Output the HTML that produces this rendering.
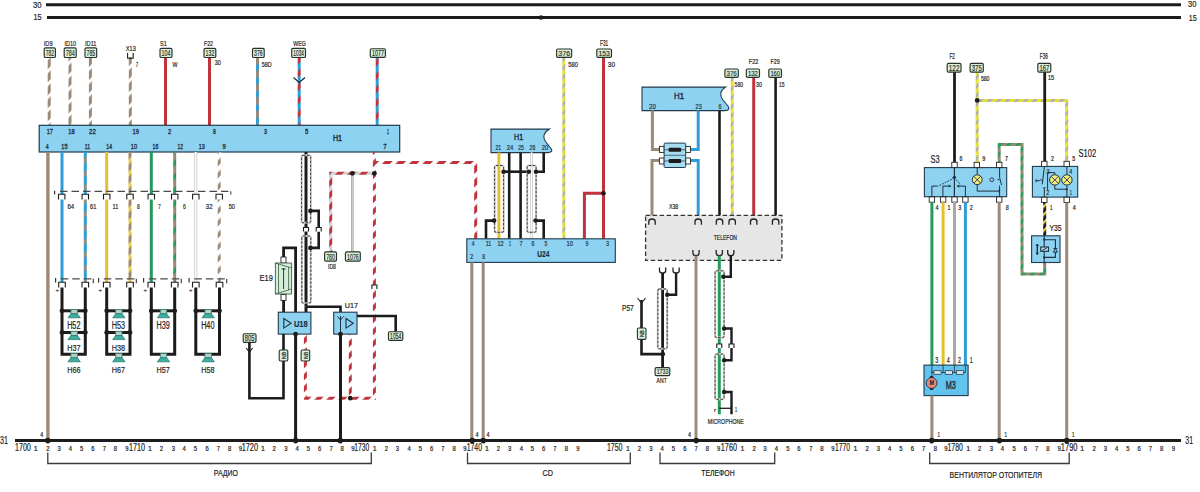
<!DOCTYPE html>
<html><head><meta charset="utf-8"><style>
html,body{margin:0;padding:0;background:#fff;}
svg{display:block;}
</style></head><body>
<svg width="1200" height="492" viewBox="0 0 1200 492">
<defs><pattern id="p0" patternUnits="userSpaceOnUse" width="9.19" height="9.19" patternTransform="rotate(45)"><rect width="9.19" height="9.19" fill="#9c8a76"/><rect width="2.94" height="9.19" fill="#ffffff"/></pattern><pattern id="p1" patternUnits="userSpaceOnUse" width="9.48" height="9.48" patternTransform="rotate(45)"><rect width="9.48" height="9.48" fill="#9c8a76"/><rect width="4.26" height="9.48" fill="#2e9fd6"/></pattern><pattern id="p2" patternUnits="userSpaceOnUse" width="9.48" height="9.48" patternTransform="rotate(45)"><rect width="9.48" height="9.48" fill="#c0323c"/><rect width="5.21" height="9.48" fill="#2e9fd6"/></pattern><pattern id="p3" patternUnits="userSpaceOnUse" width="9.55" height="9.55" patternTransform="rotate(45)"><rect width="9.55" height="9.55" fill="#2e9fd6"/><rect width="3.34" height="9.55" fill="#9c8a76"/></pattern><pattern id="p4" patternUnits="userSpaceOnUse" width="8.49" height="8.49" patternTransform="rotate(45)"><rect width="8.49" height="8.49" fill="#9c8a76"/><rect width="3.56" height="8.49" fill="#e8d048"/></pattern><pattern id="p5" patternUnits="userSpaceOnUse" width="9.48" height="9.48" patternTransform="rotate(45)"><rect width="9.48" height="9.48" fill="#9c8a76"/><rect width="3.98" height="9.48" fill="#259a5c"/></pattern><pattern id="p6" patternUnits="userSpaceOnUse" width="8.49" height="8.49" patternTransform="rotate(45)"><rect width="8.49" height="8.49" fill="#9c8a76"/><rect width="4.24" height="8.49" fill="#ffffff"/></pattern><pattern id="p7" patternUnits="userSpaceOnUse" width="8.49" height="8.49" patternTransform="rotate(45)"><rect width="8.49" height="8.49" fill="#c0323c"/><rect width="3.99" height="8.49" fill="#ffffff"/></pattern><pattern id="p8" patternUnits="userSpaceOnUse" width="9.55" height="9.55" patternTransform="rotate(45)"><rect width="9.55" height="9.55" fill="#c0323c"/><rect width="4.01" height="9.55" fill="#ffffff"/></pattern><pattern id="p9" patternUnits="userSpaceOnUse" width="8.49" height="8.49" patternTransform="rotate(45)"><rect width="8.49" height="8.49" fill="#c0323c"/><rect width="3.82" height="8.49" fill="#d0d0d0"/></pattern><pattern id="p10" patternUnits="userSpaceOnUse" width="6.36" height="6.36" patternTransform="rotate(45)"><rect width="6.36" height="6.36" fill="#e6e03c"/><rect width="2.67" height="6.36" fill="#b0b0b0"/></pattern><pattern id="p11" patternUnits="userSpaceOnUse" width="6.36" height="6.36" patternTransform="rotate(45)"><rect width="6.36" height="6.36" fill="#9c8a76"/><rect width="3.18" height="6.36" fill="#2f9a5e"/></pattern><pattern id="p12" patternUnits="userSpaceOnUse" width="5.66" height="5.66" patternTransform="rotate(45)"><rect width="5.66" height="5.66" fill="#1c1c1c"/><rect width="2.26" height="5.66" fill="#f0d020"/></pattern></defs>
<rect width="1200" height="492" fill="#fff"/>
<line x1="46" y1="4.8" x2="1181" y2="4.8" stroke="#1c1c1c" stroke-width="3" stroke-linecap="butt"/>
<line x1="47" y1="17.5" x2="1181" y2="17.5" stroke="#1c1c1c" stroke-width="3" stroke-linecap="butt"/>
<text x="33" y="8.3" font-family="Liberation Sans" font-size="9.85" font-weight="normal" fill="#222" stroke="#222" stroke-width="0.2" text-anchor="start" textLength="8.5" lengthAdjust="spacingAndGlyphs">30</text>
<text x="33.5" y="20.4" font-family="Liberation Sans" font-size="9.55" font-weight="normal" fill="#222" stroke="#222" stroke-width="0.2" text-anchor="start" textLength="8" lengthAdjust="spacingAndGlyphs">15</text>
<text x="1188" y="7.3" font-family="Liberation Sans" font-size="9.7" font-weight="normal" fill="#222" stroke="#222" stroke-width="0.2" text-anchor="start" textLength="8.3" lengthAdjust="spacingAndGlyphs">30</text>
<text x="1188.8" y="20.8" font-family="Liberation Sans" font-size="9.4" font-weight="normal" fill="#222" stroke="#222" stroke-width="0.2" text-anchor="start" textLength="7.9" lengthAdjust="spacingAndGlyphs">15</text>
<line x1="15" y1="440.6" x2="1181" y2="440.6" stroke="#1c1c1c" stroke-width="3" stroke-linecap="butt"/>
<text x="0" y="443.7" font-family="Liberation Sans" font-size="10.75" font-weight="normal" fill="#222" stroke="#222" stroke-width="0.2" text-anchor="start" textLength="8" lengthAdjust="spacingAndGlyphs">31</text>
<text x="1185.3" y="443.7" font-family="Liberation Sans" font-size="10.45" font-weight="normal" fill="#222" stroke="#222" stroke-width="0.2" text-anchor="start" textLength="7.7" lengthAdjust="spacingAndGlyphs">31</text>
<text x="15" y="451.3" font-family="Liberation Sans" font-size="10.3" font-weight="normal" fill="#222" stroke="#222" stroke-width="0.2" text-anchor="start" textLength="15.8" lengthAdjust="spacingAndGlyphs">1700</text>
<text x="35.8" y="451" font-family="Liberation Sans" font-size="7" font-weight="normal" fill="#222" stroke="#222" stroke-width="0.2" text-anchor="middle">1</text>
<text x="47.8" y="451" font-family="Liberation Sans" font-size="7" font-weight="normal" fill="#222" stroke="#222" stroke-width="0.2" text-anchor="middle" textLength="3.3" lengthAdjust="spacingAndGlyphs">2</text>
<text x="59.2" y="451" font-family="Liberation Sans" font-size="7" font-weight="normal" fill="#222" stroke="#222" stroke-width="0.2" text-anchor="middle" textLength="3.3" lengthAdjust="spacingAndGlyphs">3</text>
<text x="70.3" y="451" font-family="Liberation Sans" font-size="7" font-weight="normal" fill="#222" stroke="#222" stroke-width="0.2" text-anchor="middle" textLength="3.3" lengthAdjust="spacingAndGlyphs">4</text>
<text x="81.7" y="451" font-family="Liberation Sans" font-size="7" font-weight="normal" fill="#222" stroke="#222" stroke-width="0.2" text-anchor="middle" textLength="3.3" lengthAdjust="spacingAndGlyphs">5</text>
<text x="93" y="451" font-family="Liberation Sans" font-size="7" font-weight="normal" fill="#222" stroke="#222" stroke-width="0.2" text-anchor="middle" textLength="3.3" lengthAdjust="spacingAndGlyphs">6</text>
<text x="104.5" y="451" font-family="Liberation Sans" font-size="7" font-weight="normal" fill="#222" stroke="#222" stroke-width="0.2" text-anchor="middle" textLength="3.3" lengthAdjust="spacingAndGlyphs">7</text>
<text x="115.5" y="451" font-family="Liberation Sans" font-size="7" font-weight="normal" fill="#222" stroke="#222" stroke-width="0.2" text-anchor="middle" textLength="3.3" lengthAdjust="spacingAndGlyphs">8</text>
<text x="127" y="451" font-family="Liberation Sans" font-size="7" font-weight="normal" fill="#222" stroke="#222" stroke-width="0.2" text-anchor="middle" textLength="3.3" lengthAdjust="spacingAndGlyphs">9</text>
<text x="129" y="451.3" font-family="Liberation Sans" font-size="10.3" font-weight="normal" fill="#222" stroke="#222" stroke-width="0.2" text-anchor="start" textLength="16" lengthAdjust="spacingAndGlyphs">1710</text>
<text x="150" y="451" font-family="Liberation Sans" font-size="7" font-weight="normal" fill="#222" stroke="#222" stroke-width="0.2" text-anchor="middle">1</text>
<text x="161.3" y="451" font-family="Liberation Sans" font-size="7" font-weight="normal" fill="#222" stroke="#222" stroke-width="0.2" text-anchor="middle" textLength="3.3" lengthAdjust="spacingAndGlyphs">2</text>
<text x="173.3" y="451" font-family="Liberation Sans" font-size="7" font-weight="normal" fill="#222" stroke="#222" stroke-width="0.2" text-anchor="middle" textLength="3.3" lengthAdjust="spacingAndGlyphs">3</text>
<text x="184.2" y="451" font-family="Liberation Sans" font-size="7" font-weight="normal" fill="#222" stroke="#222" stroke-width="0.2" text-anchor="middle" textLength="3.3" lengthAdjust="spacingAndGlyphs">4</text>
<text x="195.3" y="451" font-family="Liberation Sans" font-size="7" font-weight="normal" fill="#222" stroke="#222" stroke-width="0.2" text-anchor="middle" textLength="3.3" lengthAdjust="spacingAndGlyphs">5</text>
<text x="207.2" y="451" font-family="Liberation Sans" font-size="7" font-weight="normal" fill="#222" stroke="#222" stroke-width="0.2" text-anchor="middle" textLength="3.3" lengthAdjust="spacingAndGlyphs">6</text>
<text x="218.3" y="451" font-family="Liberation Sans" font-size="7" font-weight="normal" fill="#222" stroke="#222" stroke-width="0.2" text-anchor="middle" textLength="3.3" lengthAdjust="spacingAndGlyphs">7</text>
<text x="229.7" y="451" font-family="Liberation Sans" font-size="7" font-weight="normal" fill="#222" stroke="#222" stroke-width="0.2" text-anchor="middle" textLength="3.3" lengthAdjust="spacingAndGlyphs">8</text>
<text x="240.5" y="451" font-family="Liberation Sans" font-size="7" font-weight="normal" fill="#222" stroke="#222" stroke-width="0.2" text-anchor="middle" textLength="3.3" lengthAdjust="spacingAndGlyphs">9</text>
<text x="241.7" y="451.3" font-family="Liberation Sans" font-size="10.3" font-weight="normal" fill="#222" stroke="#222" stroke-width="0.2" text-anchor="start" textLength="16.3" lengthAdjust="spacingAndGlyphs">1720</text>
<text x="263" y="451" font-family="Liberation Sans" font-size="7" font-weight="normal" fill="#222" stroke="#222" stroke-width="0.2" text-anchor="middle">1</text>
<text x="274.2" y="451" font-family="Liberation Sans" font-size="7" font-weight="normal" fill="#222" stroke="#222" stroke-width="0.2" text-anchor="middle" textLength="3.3" lengthAdjust="spacingAndGlyphs">2</text>
<text x="285.8" y="451" font-family="Liberation Sans" font-size="7" font-weight="normal" fill="#222" stroke="#222" stroke-width="0.2" text-anchor="middle" textLength="3.3" lengthAdjust="spacingAndGlyphs">3</text>
<text x="297.2" y="451" font-family="Liberation Sans" font-size="7" font-weight="normal" fill="#222" stroke="#222" stroke-width="0.2" text-anchor="middle" textLength="3.3" lengthAdjust="spacingAndGlyphs">4</text>
<text x="308.3" y="451" font-family="Liberation Sans" font-size="7" font-weight="normal" fill="#222" stroke="#222" stroke-width="0.2" text-anchor="middle" textLength="3.3" lengthAdjust="spacingAndGlyphs">5</text>
<text x="319.7" y="451" font-family="Liberation Sans" font-size="7" font-weight="normal" fill="#222" stroke="#222" stroke-width="0.2" text-anchor="middle" textLength="3.3" lengthAdjust="spacingAndGlyphs">6</text>
<text x="331.2" y="451" font-family="Liberation Sans" font-size="7" font-weight="normal" fill="#222" stroke="#222" stroke-width="0.2" text-anchor="middle" textLength="3.3" lengthAdjust="spacingAndGlyphs">7</text>
<text x="342.2" y="451" font-family="Liberation Sans" font-size="7" font-weight="normal" fill="#222" stroke="#222" stroke-width="0.2" text-anchor="middle" textLength="3.3" lengthAdjust="spacingAndGlyphs">8</text>
<text x="353" y="451" font-family="Liberation Sans" font-size="7" font-weight="normal" fill="#222" stroke="#222" stroke-width="0.2" text-anchor="middle" textLength="3.3" lengthAdjust="spacingAndGlyphs">9</text>
<text x="354.2" y="451.3" font-family="Liberation Sans" font-size="10.3" font-weight="normal" fill="#222" stroke="#222" stroke-width="0.2" text-anchor="start" textLength="15" lengthAdjust="spacingAndGlyphs">1730</text>
<text x="374.7" y="451" font-family="Liberation Sans" font-size="7" font-weight="normal" fill="#222" stroke="#222" stroke-width="0.2" text-anchor="middle">1</text>
<text x="386.3" y="451" font-family="Liberation Sans" font-size="7" font-weight="normal" fill="#222" stroke="#222" stroke-width="0.2" text-anchor="middle" textLength="3.3" lengthAdjust="spacingAndGlyphs">2</text>
<text x="397.5" y="451" font-family="Liberation Sans" font-size="7" font-weight="normal" fill="#222" stroke="#222" stroke-width="0.2" text-anchor="middle" textLength="3.3" lengthAdjust="spacingAndGlyphs">3</text>
<text x="409.2" y="451" font-family="Liberation Sans" font-size="7" font-weight="normal" fill="#222" stroke="#222" stroke-width="0.2" text-anchor="middle" textLength="3.3" lengthAdjust="spacingAndGlyphs">4</text>
<text x="420.3" y="451" font-family="Liberation Sans" font-size="7" font-weight="normal" fill="#222" stroke="#222" stroke-width="0.2" text-anchor="middle" textLength="3.3" lengthAdjust="spacingAndGlyphs">5</text>
<text x="431.7" y="451" font-family="Liberation Sans" font-size="7" font-weight="normal" fill="#222" stroke="#222" stroke-width="0.2" text-anchor="middle" textLength="3.3" lengthAdjust="spacingAndGlyphs">6</text>
<text x="443" y="451" font-family="Liberation Sans" font-size="7" font-weight="normal" fill="#222" stroke="#222" stroke-width="0.2" text-anchor="middle" textLength="3.3" lengthAdjust="spacingAndGlyphs">7</text>
<text x="454.2" y="451" font-family="Liberation Sans" font-size="7" font-weight="normal" fill="#222" stroke="#222" stroke-width="0.2" text-anchor="middle" textLength="3.3" lengthAdjust="spacingAndGlyphs">8</text>
<text x="465" y="451" font-family="Liberation Sans" font-size="7" font-weight="normal" fill="#222" stroke="#222" stroke-width="0.2" text-anchor="middle" textLength="3.3" lengthAdjust="spacingAndGlyphs">9</text>
<text x="466.7" y="451.3" font-family="Liberation Sans" font-size="10.3" font-weight="normal" fill="#222" stroke="#222" stroke-width="0.2" text-anchor="start" textLength="15.3" lengthAdjust="spacingAndGlyphs">1740</text>
<text x="487" y="451" font-family="Liberation Sans" font-size="7" font-weight="normal" fill="#222" stroke="#222" stroke-width="0.2" text-anchor="middle">1</text>
<text x="498.3" y="451" font-family="Liberation Sans" font-size="7" font-weight="normal" fill="#222" stroke="#222" stroke-width="0.2" text-anchor="middle" textLength="3.3" lengthAdjust="spacingAndGlyphs">2</text>
<text x="509.7" y="451" font-family="Liberation Sans" font-size="7" font-weight="normal" fill="#222" stroke="#222" stroke-width="0.2" text-anchor="middle" textLength="3.3" lengthAdjust="spacingAndGlyphs">3</text>
<text x="521.3" y="451" font-family="Liberation Sans" font-size="7" font-weight="normal" fill="#222" stroke="#222" stroke-width="0.2" text-anchor="middle" textLength="3.3" lengthAdjust="spacingAndGlyphs">4</text>
<text x="532.5" y="451" font-family="Liberation Sans" font-size="7" font-weight="normal" fill="#222" stroke="#222" stroke-width="0.2" text-anchor="middle" textLength="3.3" lengthAdjust="spacingAndGlyphs">5</text>
<text x="543.7" y="451" font-family="Liberation Sans" font-size="7" font-weight="normal" fill="#222" stroke="#222" stroke-width="0.2" text-anchor="middle" textLength="3.3" lengthAdjust="spacingAndGlyphs">6</text>
<text x="555" y="451" font-family="Liberation Sans" font-size="7" font-weight="normal" fill="#222" stroke="#222" stroke-width="0.2" text-anchor="middle" textLength="3.3" lengthAdjust="spacingAndGlyphs">7</text>
<text x="566.3" y="451" font-family="Liberation Sans" font-size="7" font-weight="normal" fill="#222" stroke="#222" stroke-width="0.2" text-anchor="middle" textLength="3.3" lengthAdjust="spacingAndGlyphs">8</text>
<text x="578" y="451" font-family="Liberation Sans" font-size="7" font-weight="normal" fill="#222" stroke="#222" stroke-width="0.2" text-anchor="middle" textLength="3.3" lengthAdjust="spacingAndGlyphs">9</text>
<text x="607" y="451.3" font-family="Liberation Sans" font-size="10.3" font-weight="normal" fill="#222" stroke="#222" stroke-width="0.2" text-anchor="start" textLength="15.5" lengthAdjust="spacingAndGlyphs">1750</text>
<text x="628" y="451" font-family="Liberation Sans" font-size="7" font-weight="normal" fill="#222" stroke="#222" stroke-width="0.2" text-anchor="middle">1</text>
<text x="639.5" y="451" font-family="Liberation Sans" font-size="7" font-weight="normal" fill="#222" stroke="#222" stroke-width="0.2" text-anchor="middle" textLength="3.3" lengthAdjust="spacingAndGlyphs">2</text>
<text x="650.8" y="451" font-family="Liberation Sans" font-size="7" font-weight="normal" fill="#222" stroke="#222" stroke-width="0.2" text-anchor="middle" textLength="3.3" lengthAdjust="spacingAndGlyphs">3</text>
<text x="662.2" y="451" font-family="Liberation Sans" font-size="7" font-weight="normal" fill="#222" stroke="#222" stroke-width="0.2" text-anchor="middle" textLength="3.3" lengthAdjust="spacingAndGlyphs">4</text>
<text x="673.3" y="451" font-family="Liberation Sans" font-size="7" font-weight="normal" fill="#222" stroke="#222" stroke-width="0.2" text-anchor="middle" textLength="3.3" lengthAdjust="spacingAndGlyphs">5</text>
<text x="685" y="451" font-family="Liberation Sans" font-size="7" font-weight="normal" fill="#222" stroke="#222" stroke-width="0.2" text-anchor="middle" textLength="3.3" lengthAdjust="spacingAndGlyphs">6</text>
<text x="696.2" y="451" font-family="Liberation Sans" font-size="7" font-weight="normal" fill="#222" stroke="#222" stroke-width="0.2" text-anchor="middle" textLength="3.3" lengthAdjust="spacingAndGlyphs">7</text>
<text x="707.5" y="451" font-family="Liberation Sans" font-size="7" font-weight="normal" fill="#222" stroke="#222" stroke-width="0.2" text-anchor="middle" textLength="3.3" lengthAdjust="spacingAndGlyphs">8</text>
<text x="718.7" y="451" font-family="Liberation Sans" font-size="7" font-weight="normal" fill="#222" stroke="#222" stroke-width="0.2" text-anchor="middle" textLength="3.3" lengthAdjust="spacingAndGlyphs">9</text>
<text x="720.8" y="451.3" font-family="Liberation Sans" font-size="10.3" font-weight="normal" fill="#222" stroke="#222" stroke-width="0.2" text-anchor="start" textLength="16.2" lengthAdjust="spacingAndGlyphs">1760</text>
<text x="742.5" y="451" font-family="Liberation Sans" font-size="7" font-weight="normal" fill="#222" stroke="#222" stroke-width="0.2" text-anchor="middle">1</text>
<text x="754.2" y="451" font-family="Liberation Sans" font-size="7" font-weight="normal" fill="#222" stroke="#222" stroke-width="0.2" text-anchor="middle" textLength="3.3" lengthAdjust="spacingAndGlyphs">2</text>
<text x="765" y="451" font-family="Liberation Sans" font-size="7" font-weight="normal" fill="#222" stroke="#222" stroke-width="0.2" text-anchor="middle" textLength="3.3" lengthAdjust="spacingAndGlyphs">3</text>
<text x="776.3" y="451" font-family="Liberation Sans" font-size="7" font-weight="normal" fill="#222" stroke="#222" stroke-width="0.2" text-anchor="middle" textLength="3.3" lengthAdjust="spacingAndGlyphs">4</text>
<text x="787.8" y="451" font-family="Liberation Sans" font-size="7" font-weight="normal" fill="#222" stroke="#222" stroke-width="0.2" text-anchor="middle" textLength="3.3" lengthAdjust="spacingAndGlyphs">5</text>
<text x="799" y="451" font-family="Liberation Sans" font-size="7" font-weight="normal" fill="#222" stroke="#222" stroke-width="0.2" text-anchor="middle" textLength="3.3" lengthAdjust="spacingAndGlyphs">6</text>
<text x="810.8" y="451" font-family="Liberation Sans" font-size="7" font-weight="normal" fill="#222" stroke="#222" stroke-width="0.2" text-anchor="middle" textLength="3.3" lengthAdjust="spacingAndGlyphs">7</text>
<text x="822" y="451" font-family="Liberation Sans" font-size="7" font-weight="normal" fill="#222" stroke="#222" stroke-width="0.2" text-anchor="middle" textLength="3.3" lengthAdjust="spacingAndGlyphs">8</text>
<text x="833" y="451" font-family="Liberation Sans" font-size="7" font-weight="normal" fill="#222" stroke="#222" stroke-width="0.2" text-anchor="middle" textLength="3.3" lengthAdjust="spacingAndGlyphs">9</text>
<text x="835" y="451.3" font-family="Liberation Sans" font-size="10.3" font-weight="normal" fill="#222" stroke="#222" stroke-width="0.2" text-anchor="start" textLength="15" lengthAdjust="spacingAndGlyphs">1770</text>
<text x="855.5" y="451" font-family="Liberation Sans" font-size="7" font-weight="normal" fill="#222" stroke="#222" stroke-width="0.2" text-anchor="middle">1</text>
<text x="867.2" y="451" font-family="Liberation Sans" font-size="7" font-weight="normal" fill="#222" stroke="#222" stroke-width="0.2" text-anchor="middle" textLength="3.3" lengthAdjust="spacingAndGlyphs">2</text>
<text x="878.3" y="451" font-family="Liberation Sans" font-size="7" font-weight="normal" fill="#222" stroke="#222" stroke-width="0.2" text-anchor="middle" textLength="3.3" lengthAdjust="spacingAndGlyphs">3</text>
<text x="889.7" y="451" font-family="Liberation Sans" font-size="7" font-weight="normal" fill="#222" stroke="#222" stroke-width="0.2" text-anchor="middle" textLength="3.3" lengthAdjust="spacingAndGlyphs">4</text>
<text x="900.8" y="451" font-family="Liberation Sans" font-size="7" font-weight="normal" fill="#222" stroke="#222" stroke-width="0.2" text-anchor="middle" textLength="3.3" lengthAdjust="spacingAndGlyphs">5</text>
<text x="912.5" y="451" font-family="Liberation Sans" font-size="7" font-weight="normal" fill="#222" stroke="#222" stroke-width="0.2" text-anchor="middle" textLength="3.3" lengthAdjust="spacingAndGlyphs">6</text>
<text x="923.7" y="451" font-family="Liberation Sans" font-size="7" font-weight="normal" fill="#222" stroke="#222" stroke-width="0.2" text-anchor="middle" textLength="3.3" lengthAdjust="spacingAndGlyphs">7</text>
<text x="935.3" y="451" font-family="Liberation Sans" font-size="7" font-weight="normal" fill="#222" stroke="#222" stroke-width="0.2" text-anchor="middle" textLength="3.3" lengthAdjust="spacingAndGlyphs">8</text>
<text x="945.8" y="451" font-family="Liberation Sans" font-size="7" font-weight="normal" fill="#222" stroke="#222" stroke-width="0.2" text-anchor="middle" textLength="3.3" lengthAdjust="spacingAndGlyphs">9</text>
<text x="947.5" y="451.3" font-family="Liberation Sans" font-size="10.3" font-weight="normal" fill="#222" stroke="#222" stroke-width="0.2" text-anchor="start" textLength="15.5" lengthAdjust="spacingAndGlyphs">1780</text>
<text x="968.3" y="451" font-family="Liberation Sans" font-size="7" font-weight="normal" fill="#222" stroke="#222" stroke-width="0.2" text-anchor="middle">1</text>
<text x="979.7" y="451" font-family="Liberation Sans" font-size="7" font-weight="normal" fill="#222" stroke="#222" stroke-width="0.2" text-anchor="middle" textLength="3.3" lengthAdjust="spacingAndGlyphs">2</text>
<text x="991.3" y="451" font-family="Liberation Sans" font-size="7" font-weight="normal" fill="#222" stroke="#222" stroke-width="0.2" text-anchor="middle" textLength="3.3" lengthAdjust="spacingAndGlyphs">3</text>
<text x="1002.5" y="451" font-family="Liberation Sans" font-size="7" font-weight="normal" fill="#222" stroke="#222" stroke-width="0.2" text-anchor="middle" textLength="3.3" lengthAdjust="spacingAndGlyphs">4</text>
<text x="1014.2" y="451" font-family="Liberation Sans" font-size="7" font-weight="normal" fill="#222" stroke="#222" stroke-width="0.2" text-anchor="middle" textLength="3.3" lengthAdjust="spacingAndGlyphs">5</text>
<text x="1025.3" y="451" font-family="Liberation Sans" font-size="7" font-weight="normal" fill="#222" stroke="#222" stroke-width="0.2" text-anchor="middle" textLength="3.3" lengthAdjust="spacingAndGlyphs">6</text>
<text x="1036.7" y="451" font-family="Liberation Sans" font-size="7" font-weight="normal" fill="#222" stroke="#222" stroke-width="0.2" text-anchor="middle" textLength="3.3" lengthAdjust="spacingAndGlyphs">7</text>
<text x="1048" y="451" font-family="Liberation Sans" font-size="7" font-weight="normal" fill="#222" stroke="#222" stroke-width="0.2" text-anchor="middle" textLength="3.3" lengthAdjust="spacingAndGlyphs">8</text>
<text x="1059.2" y="451" font-family="Liberation Sans" font-size="7" font-weight="normal" fill="#222" stroke="#222" stroke-width="0.2" text-anchor="middle" textLength="3.3" lengthAdjust="spacingAndGlyphs">9</text>
<text x="1060.8" y="451.3" font-family="Liberation Sans" font-size="10.3" font-weight="normal" fill="#222" stroke="#222" stroke-width="0.2" text-anchor="start" textLength="16.7" lengthAdjust="spacingAndGlyphs">1790</text>
<text x="1082.2" y="451" font-family="Liberation Sans" font-size="7" font-weight="normal" fill="#222" stroke="#222" stroke-width="0.2" text-anchor="middle">1</text>
<text x="1094.2" y="451" font-family="Liberation Sans" font-size="7" font-weight="normal" fill="#222" stroke="#222" stroke-width="0.2" text-anchor="middle" textLength="3.3" lengthAdjust="spacingAndGlyphs">2</text>
<text x="1105.3" y="451" font-family="Liberation Sans" font-size="7" font-weight="normal" fill="#222" stroke="#222" stroke-width="0.2" text-anchor="middle" textLength="3.3" lengthAdjust="spacingAndGlyphs">3</text>
<text x="1116.7" y="451" font-family="Liberation Sans" font-size="7" font-weight="normal" fill="#222" stroke="#222" stroke-width="0.2" text-anchor="middle" textLength="3.3" lengthAdjust="spacingAndGlyphs">4</text>
<text x="1128" y="451" font-family="Liberation Sans" font-size="7" font-weight="normal" fill="#222" stroke="#222" stroke-width="0.2" text-anchor="middle" textLength="3.3" lengthAdjust="spacingAndGlyphs">5</text>
<text x="1139.2" y="451" font-family="Liberation Sans" font-size="7" font-weight="normal" fill="#222" stroke="#222" stroke-width="0.2" text-anchor="middle" textLength="3.3" lengthAdjust="spacingAndGlyphs">6</text>
<text x="1150.5" y="451" font-family="Liberation Sans" font-size="7" font-weight="normal" fill="#222" stroke="#222" stroke-width="0.2" text-anchor="middle" textLength="3.3" lengthAdjust="spacingAndGlyphs">7</text>
<text x="1161.7" y="451" font-family="Liberation Sans" font-size="7" font-weight="normal" fill="#222" stroke="#222" stroke-width="0.2" text-anchor="middle" textLength="3.3" lengthAdjust="spacingAndGlyphs">8</text>
<text x="1173.3" y="451" font-family="Liberation Sans" font-size="7" font-weight="normal" fill="#222" stroke="#222" stroke-width="0.2" text-anchor="middle" textLength="3.3" lengthAdjust="spacingAndGlyphs">9</text>
<polyline points="47.8,452.5 47.8,463.5 371.3,463.5 371.3,452.5" fill="none" stroke="#3a3a3a" stroke-width="1.3" stroke-linejoin="miter" stroke-linecap="butt"/>
<polyline points="467.5,452.5 467.5,463.5 630.3,463.5 630.3,452.5" fill="none" stroke="#3a3a3a" stroke-width="1.3" stroke-linejoin="miter" stroke-linecap="butt"/>
<polyline points="660,452.5 660,463.5 774.7,463.5 774.7,452.5" fill="none" stroke="#3a3a3a" stroke-width="1.3" stroke-linejoin="miter" stroke-linecap="butt"/>
<polyline points="929.7,452.5 929.7,463.5 1069.2,463.5 1069.2,452.5" fill="none" stroke="#3a3a3a" stroke-width="1.3" stroke-linejoin="miter" stroke-linecap="butt"/>
<text x="213.8" y="476" font-family="Liberation Sans" font-size="9.4" font-weight="normal" fill="#222" stroke="#222" stroke-width="0.2" text-anchor="start" textLength="24.2" lengthAdjust="spacingAndGlyphs">РАДИО</text>
<text x="542.5" y="476" font-family="Liberation Sans" font-size="9.4" font-weight="normal" fill="#222" stroke="#222" stroke-width="0.2" text-anchor="start" textLength="10.5" lengthAdjust="spacingAndGlyphs">CD</text>
<text x="701.2" y="476" font-family="Liberation Sans" font-size="9.4" font-weight="normal" fill="#222" stroke="#222" stroke-width="0.2" text-anchor="start" textLength="33.5" lengthAdjust="spacingAndGlyphs">ТЕЛЕФОН</text>
<text x="949.6" y="478.3" font-family="Liberation Sans" font-size="9.85" font-weight="normal" fill="#222" stroke="#222" stroke-width="0.2" text-anchor="start" textLength="92.4" lengthAdjust="spacingAndGlyphs">ВЕНТИЛЯТОР ОТОПИТЕЛЯ</text>
<polyline points="49.2,57.5 49.2,125.3" fill="none" stroke="url(#p0)" stroke-width="3" stroke-linejoin="miter"/>
<rect x="44.2" y="47.9" width="11.2" height="9.6" rx="1.3" fill="#dcefdb" stroke="#25332a" stroke-width="1.15"/>
<text x="45.8" y="56" font-family="Liberation Sans" font-size="9.55" font-weight="normal" fill="#1e2a22" stroke="#1e2a22" stroke-width="0.15" text-anchor="start" textLength="8.1" lengthAdjust="spacingAndGlyphs">782</text>
<text x="43.8" y="45.6" font-family="Liberation Sans" font-size="7.76" font-weight="normal" fill="#222" stroke="#222" stroke-width="0.2" text-anchor="start" textLength="8.7" lengthAdjust="spacingAndGlyphs">ID9</text>
<polyline points="70,57.5 70,125.3" fill="none" stroke="url(#p0)" stroke-width="3" stroke-linejoin="miter"/>
<rect x="64.2" y="47.9" width="12" height="9.6" rx="1.3" fill="#dcefdb" stroke="#25332a" stroke-width="1.15"/>
<text x="65.8" y="56" font-family="Liberation Sans" font-size="9.55" font-weight="normal" fill="#1e2a22" stroke="#1e2a22" stroke-width="0.15" text-anchor="start" textLength="8.9" lengthAdjust="spacingAndGlyphs">784</text>
<text x="64.5" y="45.6" font-family="Liberation Sans" font-size="7.76" font-weight="normal" fill="#222" stroke="#222" stroke-width="0.2" text-anchor="start" textLength="11.5" lengthAdjust="spacingAndGlyphs">ID10</text>
<polyline points="90.4,57.5 90.4,125.3" fill="none" stroke="url(#p0)" stroke-width="3" stroke-linejoin="miter"/>
<rect x="85" y="47.9" width="11.7" height="9.6" rx="1.3" fill="#dcefdb" stroke="#25332a" stroke-width="1.15"/>
<text x="86.6" y="56" font-family="Liberation Sans" font-size="9.55" font-weight="normal" fill="#1e2a22" stroke="#1e2a22" stroke-width="0.15" text-anchor="start" textLength="8.6" lengthAdjust="spacingAndGlyphs">785</text>
<text x="85" y="45.6" font-family="Liberation Sans" font-size="7.76" font-weight="normal" fill="#222" stroke="#222" stroke-width="0.2" text-anchor="start" textLength="11.5" lengthAdjust="spacingAndGlyphs">ID11</text>
<polyline points="130.3,57 130.3,125.3" fill="none" stroke="url(#p0)" stroke-width="3" stroke-linejoin="miter"/>
<text x="125.8" y="50.8" font-family="Liberation Sans" font-size="7.46" font-weight="normal" fill="#222" stroke="#222" stroke-width="0.2" text-anchor="start" textLength="10" lengthAdjust="spacingAndGlyphs">X13</text>
<path d="M127.6,53 V58.2 H133.2 V53" fill="none" stroke="#1c1c1c" stroke-width="1.1"/>
<text x="135.8" y="66.7" font-family="Liberation Sans" font-size="7.46" font-weight="normal" fill="#222" stroke="#222" stroke-width="0.2" text-anchor="start" textLength="2.5" lengthAdjust="spacingAndGlyphs">7</text>
<polyline points="165.5,57.5 165.5,125.3" fill="none" stroke="#c0323c" stroke-width="3" stroke-linejoin="miter" stroke-linecap="butt"/>
<rect x="160" y="48.3" width="12" height="9.2" rx="1.3" fill="#dcefdb" stroke="#25332a" stroke-width="1.15"/>
<text x="161.6" y="56" font-family="Liberation Sans" font-size="8.96" font-weight="normal" fill="#1e2a22" stroke="#1e2a22" stroke-width="0.15" text-anchor="start" textLength="8.9" lengthAdjust="spacingAndGlyphs">104</text>
<text x="160" y="45.8" font-family="Liberation Sans" font-size="7.46" font-weight="normal" fill="#222" stroke="#222" stroke-width="0.2" text-anchor="start" textLength="6.7" lengthAdjust="spacingAndGlyphs">S1</text>
<text x="172.5" y="66.7" font-family="Liberation Sans" font-size="7.46" font-weight="normal" fill="#222" stroke="#222" stroke-width="0.2" text-anchor="start" textLength="5" lengthAdjust="spacingAndGlyphs">W</text>
<polyline points="209.5,57.5 209.5,125.3" fill="none" stroke="#c0323c" stroke-width="3" stroke-linejoin="miter" stroke-linecap="butt"/>
<rect x="204" y="48.3" width="11.8" height="9.2" rx="1.3" fill="#dcefdb" stroke="#25332a" stroke-width="1.15"/>
<text x="205.6" y="56" font-family="Liberation Sans" font-size="8.96" font-weight="normal" fill="#1e2a22" stroke="#1e2a22" stroke-width="0.15" text-anchor="start" textLength="8.7" lengthAdjust="spacingAndGlyphs">132</text>
<text x="204" y="45.8" font-family="Liberation Sans" font-size="7.46" font-weight="normal" fill="#222" stroke="#222" stroke-width="0.2" text-anchor="start" textLength="9" lengthAdjust="spacingAndGlyphs">F22</text>
<text x="214.7" y="65" font-family="Liberation Sans" font-size="7.91" font-weight="normal" fill="#222" stroke="#222" stroke-width="0.2" text-anchor="start" textLength="6.1" lengthAdjust="spacingAndGlyphs">30</text>
<polyline points="257.5,57.5 257.5,125.3" fill="none" stroke="url(#p1)" stroke-width="3" stroke-linejoin="miter"/>
<rect x="252.5" y="48.3" width="11.7" height="9.2" rx="1.3" fill="#dcefdb" stroke="#25332a" stroke-width="1.15"/>
<text x="254.1" y="56" font-family="Liberation Sans" font-size="8.96" font-weight="normal" fill="#1e2a22" stroke="#1e2a22" stroke-width="0.15" text-anchor="start" textLength="8.6" lengthAdjust="spacingAndGlyphs">376</text>
<text x="261.7" y="66.7" font-family="Liberation Sans" font-size="7.46" font-weight="normal" fill="#222" stroke="#222" stroke-width="0.2" text-anchor="start" textLength="10" lengthAdjust="spacingAndGlyphs">58D</text>
<polyline points="299.2,57.5 299.2,125.3" fill="none" stroke="url(#p2)" stroke-width="3" stroke-linejoin="miter"/>
<rect x="291.7" y="48.3" width="13.8" height="9.2" rx="1.3" fill="#dcefdb" stroke="#25332a" stroke-width="1.15"/>
<text x="293.3" y="56" font-family="Liberation Sans" font-size="8.96" font-weight="normal" fill="#1e2a22" stroke="#1e2a22" stroke-width="0.15" text-anchor="start" textLength="10.7" lengthAdjust="spacingAndGlyphs">1034</text>
<text x="293.3" y="45.8" font-family="Liberation Sans" font-size="7.46" font-weight="normal" fill="#222" stroke="#222" stroke-width="0.2" text-anchor="start" textLength="12.5" lengthAdjust="spacingAndGlyphs">WEG</text>
<polyline points="293.5,77.5 299.2,82.5 305,77.5" fill="none" stroke="#1c2a40" stroke-width="1.3" stroke-linejoin="miter" stroke-linecap="butt"/>
<polyline points="377.2,57.5 377.2,125.3" fill="none" stroke="url(#p2)" stroke-width="3" stroke-linejoin="miter"/>
<rect x="370.3" y="48.7" width="15.1" height="8.7" rx="1.3" fill="#dcefdb" stroke="#25332a" stroke-width="1.15"/>
<text x="371.9" y="55.9" font-family="Liberation Sans" font-size="8.21" font-weight="normal" fill="#1e2a22" stroke="#1e2a22" stroke-width="0.15" text-anchor="start" textLength="12" lengthAdjust="spacingAndGlyphs">1077</text>
<rect x="39.2" y="125.3" width="360.5" height="26.7" rx="0" fill="#8ed2f1" stroke="#223a4c" stroke-width="1.2"/>
<text x="46.7" y="134.2" font-family="Liberation Sans" font-size="8.06" font-weight="normal" fill="#1d3140" stroke="#1d3140" stroke-width="0.35" text-anchor="start" textLength="6.3" lengthAdjust="spacingAndGlyphs">17</text>
<text x="68.3" y="134.2" font-family="Liberation Sans" font-size="8.06" font-weight="normal" fill="#1d3140" stroke="#1d3140" stroke-width="0.35" text-anchor="start" textLength="6.4" lengthAdjust="spacingAndGlyphs">18</text>
<text x="89" y="134.2" font-family="Liberation Sans" font-size="8.06" font-weight="normal" fill="#1d3140" stroke="#1d3140" stroke-width="0.35" text-anchor="start" textLength="6.8" lengthAdjust="spacingAndGlyphs">22</text>
<text x="132.5" y="134.2" font-family="Liberation Sans" font-size="8.06" font-weight="normal" fill="#1d3140" stroke="#1d3140" stroke-width="0.35" text-anchor="start" textLength="6.5" lengthAdjust="spacingAndGlyphs">19</text>
<text x="168" y="134.2" font-family="Liberation Sans" font-size="8.06" font-weight="normal" fill="#1d3140" stroke="#1d3140" stroke-width="0.35" text-anchor="start" textLength="3.3" lengthAdjust="spacingAndGlyphs">2</text>
<text x="213" y="134.2" font-family="Liberation Sans" font-size="8.06" font-weight="normal" fill="#1d3140" stroke="#1d3140" stroke-width="0.35" text-anchor="start" textLength="2.8" lengthAdjust="spacingAndGlyphs">8</text>
<text x="264" y="134.2" font-family="Liberation Sans" font-size="8.06" font-weight="normal" fill="#1d3140" stroke="#1d3140" stroke-width="0.35" text-anchor="start" textLength="3" lengthAdjust="spacingAndGlyphs">3</text>
<text x="305" y="134.2" font-family="Liberation Sans" font-size="8.06" font-weight="normal" fill="#1d3140" stroke="#1d3140" stroke-width="0.35" text-anchor="start" textLength="3.3" lengthAdjust="spacingAndGlyphs">5</text>
<text x="387" y="134.2" font-family="Liberation Sans" font-size="8.06" font-weight="normal" fill="#1d3140" stroke="#1d3140" stroke-width="0.35" text-anchor="start" textLength="2" lengthAdjust="spacingAndGlyphs">1</text>
<text x="45.8" y="148.6" font-family="Liberation Sans" font-size="8.06" font-weight="normal" fill="#1d3140" stroke="#1d3140" stroke-width="0.35" text-anchor="start" textLength="2.9" lengthAdjust="spacingAndGlyphs">4</text>
<text x="61.3" y="148.6" font-family="Liberation Sans" font-size="8.06" font-weight="normal" fill="#1d3140" stroke="#1d3140" stroke-width="0.35" text-anchor="start" textLength="6.2" lengthAdjust="spacingAndGlyphs">15</text>
<text x="84.7" y="148.6" font-family="Liberation Sans" font-size="8.06" font-weight="normal" fill="#1d3140" stroke="#1d3140" stroke-width="0.35" text-anchor="start" textLength="5.3" lengthAdjust="spacingAndGlyphs">11</text>
<text x="106.3" y="148.6" font-family="Liberation Sans" font-size="8.06" font-weight="normal" fill="#1d3140" stroke="#1d3140" stroke-width="0.35" text-anchor="start" textLength="5.7" lengthAdjust="spacingAndGlyphs">14</text>
<text x="130.8" y="148.6" font-family="Liberation Sans" font-size="8.06" font-weight="normal" fill="#1d3140" stroke="#1d3140" stroke-width="0.35" text-anchor="start" textLength="6.2" lengthAdjust="spacingAndGlyphs">10</text>
<text x="152.5" y="148.6" font-family="Liberation Sans" font-size="8.06" font-weight="normal" fill="#1d3140" stroke="#1d3140" stroke-width="0.35" text-anchor="start" textLength="5.8" lengthAdjust="spacingAndGlyphs">16</text>
<text x="177.5" y="148.6" font-family="Liberation Sans" font-size="8.06" font-weight="normal" fill="#1d3140" stroke="#1d3140" stroke-width="0.35" text-anchor="start" textLength="5.5" lengthAdjust="spacingAndGlyphs">12</text>
<text x="198.7" y="148.6" font-family="Liberation Sans" font-size="8.06" font-weight="normal" fill="#1d3140" stroke="#1d3140" stroke-width="0.35" text-anchor="start" textLength="6" lengthAdjust="spacingAndGlyphs">13</text>
<text x="222.5" y="148.6" font-family="Liberation Sans" font-size="8.06" font-weight="normal" fill="#1d3140" stroke="#1d3140" stroke-width="0.35" text-anchor="start" textLength="3.3" lengthAdjust="spacingAndGlyphs">9</text>
<text x="383.3" y="148.6" font-family="Liberation Sans" font-size="8.06" font-weight="normal" fill="#1d3140" stroke="#1d3140" stroke-width="0.35" text-anchor="start" textLength="3.4" lengthAdjust="spacingAndGlyphs">7</text>
<text x="333" y="141" font-family="Liberation Sans" font-size="9.25" font-weight="normal" fill="#1d3140" stroke="#1d3140" stroke-width="0.5" text-anchor="start" textLength="9" lengthAdjust="spacingAndGlyphs">H1</text>
<polyline points="47.9,152 47.9,440.6" fill="none" stroke="#9c8a76" stroke-width="3.4" stroke-linejoin="miter" stroke-linecap="butt"/>
<line x1="62" y1="152" x2="62" y2="283" stroke="#2e9fd6" stroke-width="3" stroke-linecap="butt"/>
<polyline points="85.3,152 85.3,283" fill="none" stroke="url(#p3)" stroke-width="3" stroke-linejoin="miter"/>
<line x1="106.7" y1="152" x2="106.7" y2="283" stroke="#e5c02c" stroke-width="3" stroke-linecap="butt"/>
<polyline points="130,152 130,283" fill="none" stroke="url(#p4)" stroke-width="3" stroke-linejoin="miter"/>
<line x1="151.3" y1="152" x2="151.3" y2="283" stroke="#259a5c" stroke-width="3" stroke-linecap="butt"/>
<polyline points="174.7,152 174.7,283" fill="none" stroke="url(#p5)" stroke-width="3" stroke-linejoin="miter"/>
<polyline points="195.8,152 195.8,283" fill="none" stroke="#c8c8c8" stroke-width="3" stroke-linejoin="miter" stroke-linecap="butt"/>
<line x1="195.8" y1="152" x2="195.8" y2="283" stroke="#ffffff" stroke-width="1.4" stroke-linecap="butt"/>
<polyline points="219.2,152 219.2,283" fill="none" stroke="url(#p6)" stroke-width="3" stroke-linejoin="miter"/>
<line x1="60" y1="191.3" x2="230.8" y2="191.3" stroke="#4a4a4a" stroke-width="1.3" stroke-linecap="butt" stroke-dasharray="7.5 4"/>
<line x1="54.6" y1="190.7" x2="54.6" y2="194.6" stroke="#333" stroke-width="1.2" stroke-linecap="butt"/>
<line x1="230.8" y1="191.3" x2="230.8" y2="194.5" stroke="#444" stroke-width="1.1" stroke-linecap="butt"/>
<path d="M58.5,199.5 V194.3 H64.9 V199.5" fill="#fff" stroke="#1c1c1c" stroke-width="1.1"/>
<path d="M82.1,199.5 V194.3 H88.5 V199.5" fill="#fff" stroke="#1c1c1c" stroke-width="1.1"/>
<path d="M103.5,199.5 V194.3 H109.9 V199.5" fill="#fff" stroke="#1c1c1c" stroke-width="1.1"/>
<path d="M126.8,199.5 V194.3 H133.2 V199.5" fill="#fff" stroke="#1c1c1c" stroke-width="1.1"/>
<path d="M148.1,199.5 V194.3 H154.5 V199.5" fill="#fff" stroke="#1c1c1c" stroke-width="1.1"/>
<path d="M171.5,199.5 V194.3 H177.9 V199.5" fill="#fff" stroke="#1c1c1c" stroke-width="1.1"/>
<path d="M192.6,199.5 V194.3 H199 V199.5" fill="#fff" stroke="#1c1c1c" stroke-width="1.1"/>
<path d="M216,199.5 V194.3 H222.4 V199.5" fill="#fff" stroke="#1c1c1c" stroke-width="1.1"/>
<text x="67.5" y="209.2" font-family="Liberation Sans" font-size="7.76" font-weight="normal" fill="#222" stroke="#222" stroke-width="0.2" text-anchor="start" textLength="6.7" lengthAdjust="spacingAndGlyphs">64</text>
<text x="90" y="209.2" font-family="Liberation Sans" font-size="7.76" font-weight="normal" fill="#222" stroke="#222" stroke-width="0.2" text-anchor="start" textLength="6.3" lengthAdjust="spacingAndGlyphs">61</text>
<text x="112.5" y="209.2" font-family="Liberation Sans" font-size="7.76" font-weight="normal" fill="#222" stroke="#222" stroke-width="0.2" text-anchor="start" textLength="5.8" lengthAdjust="spacingAndGlyphs">11</text>
<text x="137" y="209.2" font-family="Liberation Sans" font-size="7.76" font-weight="normal" fill="#222" stroke="#222" stroke-width="0.2" text-anchor="start" textLength="2.7" lengthAdjust="spacingAndGlyphs">8</text>
<text x="158.3" y="209.2" font-family="Liberation Sans" font-size="7.76" font-weight="normal" fill="#222" stroke="#222" stroke-width="0.2" text-anchor="start" textLength="2.5" lengthAdjust="spacingAndGlyphs">7</text>
<text x="183" y="209.2" font-family="Liberation Sans" font-size="7.76" font-weight="normal" fill="#222" stroke="#222" stroke-width="0.2" text-anchor="start" textLength="2.8" lengthAdjust="spacingAndGlyphs">6</text>
<text x="205.8" y="209.2" font-family="Liberation Sans" font-size="7.76" font-weight="normal" fill="#222" stroke="#222" stroke-width="0.2" text-anchor="start" textLength="6.7" lengthAdjust="spacingAndGlyphs">32</text>
<text x="228.7" y="209.2" font-family="Liberation Sans" font-size="7.76" font-weight="normal" fill="#222" stroke="#222" stroke-width="0.2" text-anchor="start" textLength="6.3" lengthAdjust="spacingAndGlyphs">50</text>
<line x1="60.8" y1="278.8" x2="93.3" y2="278.8" stroke="#4a4a4a" stroke-width="1.3" stroke-linecap="butt" stroke-dasharray="7.5 4"/>
<line x1="55.6" y1="278.1" x2="55.6" y2="282.5" stroke="#333" stroke-width="1.2" stroke-linecap="butt"/>
<line x1="93.3" y1="278.8" x2="93.3" y2="283.2" stroke="#444" stroke-width="1.2" stroke-linecap="butt"/>
<text x="55.5" y="292.2" font-family="Liberation Sans" font-size="6" font-weight="normal" fill="#444" stroke="#444" stroke-width="0.2" text-anchor="start">+</text>
<line x1="103.8" y1="278.8" x2="136.3" y2="278.8" stroke="#4a4a4a" stroke-width="1.3" stroke-linecap="butt" stroke-dasharray="7.5 4"/>
<line x1="98.6" y1="278.1" x2="98.6" y2="282.5" stroke="#333" stroke-width="1.2" stroke-linecap="butt"/>
<line x1="136.3" y1="278.8" x2="136.3" y2="283.2" stroke="#444" stroke-width="1.2" stroke-linecap="butt"/>
<text x="98.5" y="292.2" font-family="Liberation Sans" font-size="6" font-weight="normal" fill="#444" stroke="#444" stroke-width="0.2" text-anchor="start">+</text>
<line x1="148.8" y1="278.8" x2="181.3" y2="278.8" stroke="#4a4a4a" stroke-width="1.3" stroke-linecap="butt" stroke-dasharray="7.5 4"/>
<line x1="143.6" y1="278.1" x2="143.6" y2="282.5" stroke="#333" stroke-width="1.2" stroke-linecap="butt"/>
<line x1="181.3" y1="278.8" x2="181.3" y2="283.2" stroke="#444" stroke-width="1.2" stroke-linecap="butt"/>
<text x="143.5" y="292.2" font-family="Liberation Sans" font-size="6" font-weight="normal" fill="#444" stroke="#444" stroke-width="0.2" text-anchor="start">+</text>
<line x1="194.3" y1="278.8" x2="226.7" y2="278.8" stroke="#4a4a4a" stroke-width="1.3" stroke-linecap="butt" stroke-dasharray="7.5 4"/>
<line x1="189.1" y1="278.1" x2="189.1" y2="282.5" stroke="#333" stroke-width="1.2" stroke-linecap="butt"/>
<line x1="226.7" y1="278.8" x2="226.7" y2="283.2" stroke="#444" stroke-width="1.2" stroke-linecap="butt"/>
<text x="189" y="292.2" font-family="Liberation Sans" font-size="6" font-weight="normal" fill="#444" stroke="#444" stroke-width="0.2" text-anchor="start">+</text>
<path d="M58.7,287.6 V282.2 H65.3 V287.6" fill="#fff" stroke="#1c1c1c" stroke-width="1.1"/>
<path d="M82,287.6 V282.2 H88.6 V287.6" fill="#fff" stroke="#1c1c1c" stroke-width="1.1"/>
<path d="M103.4,287.6 V282.2 H110 V287.6" fill="#fff" stroke="#1c1c1c" stroke-width="1.1"/>
<path d="M126.7,287.6 V282.2 H133.3 V287.6" fill="#fff" stroke="#1c1c1c" stroke-width="1.1"/>
<path d="M148,287.6 V282.2 H154.6 V287.6" fill="#fff" stroke="#1c1c1c" stroke-width="1.1"/>
<path d="M171.4,287.6 V282.2 H178 V287.6" fill="#fff" stroke="#1c1c1c" stroke-width="1.1"/>
<path d="M192.5,287.6 V282.2 H199.1 V287.6" fill="#fff" stroke="#1c1c1c" stroke-width="1.1"/>
<path d="M216.2,287.6 V282.2 H222.8 V287.6" fill="#fff" stroke="#1c1c1c" stroke-width="1.1"/>
<polyline points="62,287.5 62,354.2 85.3,354.2 85.3,287.5" fill="none" stroke="#1c1c1c" stroke-width="3" stroke-linejoin="miter" stroke-linecap="butt"/>
<line x1="62" y1="310.8" x2="85.3" y2="310.8" stroke="#1c1c1c" stroke-width="3" stroke-linecap="butt"/>
<rect x="70.95" y="309.5" width="6.4" height="4.3" fill="#b9cfc6" stroke="#2f7f78" stroke-width="0.8"/>
<path d="M70.95,313.8 L77.35,313.8 L80.35,317.8 L67.95,317.8 Z" fill="#3fae9f" stroke="#2a7c72" stroke-width="0.8"/>
<text x="67.15" y="329.2" font-family="Liberation Sans" font-size="10" font-weight="normal" fill="#222" stroke="#222" stroke-width="0.2" text-anchor="start" textLength="13.3" lengthAdjust="spacingAndGlyphs">H52</text>
<line x1="62" y1="332.5" x2="85.3" y2="332.5" stroke="#1c1c1c" stroke-width="3" stroke-linecap="butt"/>
<rect x="70.95" y="331.3" width="6.4" height="4.3" fill="#b9cfc6" stroke="#2f7f78" stroke-width="0.8"/>
<path d="M70.95,335.6 L77.35,335.6 L80.35,339.6 L67.95,339.6 Z" fill="#3fae9f" stroke="#2a7c72" stroke-width="0.8"/>
<text x="67.15" y="350.8" font-family="Liberation Sans" font-size="9.85" font-weight="normal" fill="#222" stroke="#222" stroke-width="0.2" text-anchor="start" textLength="13.3" lengthAdjust="spacingAndGlyphs">H37</text>
<rect x="70.95" y="353.5" width="6.4" height="4.3" fill="#b9cfc6" stroke="#2f7f78" stroke-width="0.8"/>
<path d="M70.95,357.8 L77.35,357.8 L80.35,361.8 L67.95,361.8 Z" fill="#3fae9f" stroke="#2a7c72" stroke-width="0.8"/>
<text x="67.15" y="373.3" font-family="Liberation Sans" font-size="9.85" font-weight="normal" fill="#222" stroke="#222" stroke-width="0.2" text-anchor="start" textLength="13.3" lengthAdjust="spacingAndGlyphs">H66</text>
<polyline points="106.7,287.5 106.7,354.2 130,354.2 130,287.5" fill="none" stroke="#1c1c1c" stroke-width="3" stroke-linejoin="miter" stroke-linecap="butt"/>
<line x1="106.7" y1="310.8" x2="130" y2="310.8" stroke="#1c1c1c" stroke-width="3" stroke-linecap="butt"/>
<rect x="115.65" y="309.5" width="6.4" height="4.3" fill="#b9cfc6" stroke="#2f7f78" stroke-width="0.8"/>
<path d="M115.65,313.8 L122.05,313.8 L125.05,317.8 L112.65,317.8 Z" fill="#3fae9f" stroke="#2a7c72" stroke-width="0.8"/>
<text x="111.85" y="329.2" font-family="Liberation Sans" font-size="10" font-weight="normal" fill="#222" stroke="#222" stroke-width="0.2" text-anchor="start" textLength="13.3" lengthAdjust="spacingAndGlyphs">H53</text>
<line x1="106.7" y1="332.5" x2="130" y2="332.5" stroke="#1c1c1c" stroke-width="3" stroke-linecap="butt"/>
<rect x="115.65" y="331.3" width="6.4" height="4.3" fill="#b9cfc6" stroke="#2f7f78" stroke-width="0.8"/>
<path d="M115.65,335.6 L122.05,335.6 L125.05,339.6 L112.65,339.6 Z" fill="#3fae9f" stroke="#2a7c72" stroke-width="0.8"/>
<text x="111.85" y="350.8" font-family="Liberation Sans" font-size="9.85" font-weight="normal" fill="#222" stroke="#222" stroke-width="0.2" text-anchor="start" textLength="13.3" lengthAdjust="spacingAndGlyphs">H38</text>
<rect x="115.65" y="353.5" width="6.4" height="4.3" fill="#b9cfc6" stroke="#2f7f78" stroke-width="0.8"/>
<path d="M115.65,357.8 L122.05,357.8 L125.05,361.8 L112.65,361.8 Z" fill="#3fae9f" stroke="#2a7c72" stroke-width="0.8"/>
<text x="111.85" y="373.3" font-family="Liberation Sans" font-size="9.85" font-weight="normal" fill="#222" stroke="#222" stroke-width="0.2" text-anchor="start" textLength="13.3" lengthAdjust="spacingAndGlyphs">H67</text>
<polyline points="151.3,287.5 151.3,354.2 174.7,354.2 174.7,287.5" fill="none" stroke="#1c1c1c" stroke-width="3" stroke-linejoin="miter" stroke-linecap="butt"/>
<line x1="151.3" y1="310.8" x2="174.7" y2="310.8" stroke="#1c1c1c" stroke-width="3" stroke-linecap="butt"/>
<rect x="160.3" y="309.5" width="6.4" height="4.3" fill="#b9cfc6" stroke="#2f7f78" stroke-width="0.8"/>
<path d="M160.3,313.8 L166.7,313.8 L169.7,317.8 L157.3,317.8 Z" fill="#3fae9f" stroke="#2a7c72" stroke-width="0.8"/>
<text x="156.5" y="329.2" font-family="Liberation Sans" font-size="10" font-weight="normal" fill="#222" stroke="#222" stroke-width="0.2" text-anchor="start" textLength="13.3" lengthAdjust="spacingAndGlyphs">H39</text>
<rect x="160.3" y="353.5" width="6.4" height="4.3" fill="#b9cfc6" stroke="#2f7f78" stroke-width="0.8"/>
<path d="M160.3,357.8 L166.7,357.8 L169.7,361.8 L157.3,361.8 Z" fill="#3fae9f" stroke="#2a7c72" stroke-width="0.8"/>
<text x="156.5" y="373.3" font-family="Liberation Sans" font-size="9.85" font-weight="normal" fill="#222" stroke="#222" stroke-width="0.2" text-anchor="start" textLength="13.3" lengthAdjust="spacingAndGlyphs">H57</text>
<polyline points="195.8,287.5 195.8,354.2 219.5,354.2 219.5,287.5" fill="none" stroke="#1c1c1c" stroke-width="3" stroke-linejoin="miter" stroke-linecap="butt"/>
<line x1="195.8" y1="310.8" x2="219.5" y2="310.8" stroke="#1c1c1c" stroke-width="3" stroke-linecap="butt"/>
<rect x="204.95" y="309.5" width="6.4" height="4.3" fill="#b9cfc6" stroke="#2f7f78" stroke-width="0.8"/>
<path d="M204.95,313.8 L211.35,313.8 L214.35,317.8 L201.95,317.8 Z" fill="#3fae9f" stroke="#2a7c72" stroke-width="0.8"/>
<text x="201.15" y="329.2" font-family="Liberation Sans" font-size="10" font-weight="normal" fill="#222" stroke="#222" stroke-width="0.2" text-anchor="start" textLength="13.3" lengthAdjust="spacingAndGlyphs">H40</text>
<rect x="204.95" y="353.5" width="6.4" height="4.3" fill="#b9cfc6" stroke="#2f7f78" stroke-width="0.8"/>
<path d="M204.95,357.8 L211.35,357.8 L214.35,361.8 L201.95,361.8 Z" fill="#3fae9f" stroke="#2a7c72" stroke-width="0.8"/>
<text x="201.15" y="373.3" font-family="Liberation Sans" font-size="9.85" font-weight="normal" fill="#222" stroke="#222" stroke-width="0.2" text-anchor="start" textLength="13.3" lengthAdjust="spacingAndGlyphs">H58</text>
<text x="40.3" y="436.9" font-family="Liberation Sans" font-size="6.57" font-weight="normal" fill="#222" stroke="#222" stroke-width="0.2" text-anchor="start" textLength="3" lengthAdjust="spacingAndGlyphs">4</text>
<polyline points="374.4,152 374.4,398.2 305.4,398.2 305.4,334" fill="none" stroke="url(#p7)" stroke-width="3" stroke-linejoin="miter"/>
<polyline points="374.4,162.4 475.7,162.4 475.7,238.8" fill="none" stroke="url(#p8)" stroke-width="3" stroke-linejoin="miter"/>
<polyline points="374.4,173.3 330.7,173.3 330.7,251.9" fill="none" stroke="url(#p9)" stroke-width="3" stroke-linejoin="miter"/>
<polyline points="352.4,173.3 352.4,251.9" fill="none" stroke="#9a9a9a" stroke-width="2.4" stroke-linejoin="miter" stroke-linecap="butt"/>
<line x1="352.4" y1="173.3" x2="352.4" y2="251.9" stroke="#d8d8d8" stroke-width="0.9" stroke-linecap="butt"/>
<rect x="324.6" y="251.9" width="11.9" height="9.2" rx="1.3" fill="#dcefdb" stroke="#25332a" stroke-width="1.15"/>
<text x="326.2" y="259.6" font-family="Liberation Sans" font-size="8.96" font-weight="normal" fill="#1e2a22" stroke="#1e2a22" stroke-width="0.15" text-anchor="start" textLength="8.8" lengthAdjust="spacingAndGlyphs">780</text>
<rect x="345.4" y="251.9" width="14.9" height="9.2" rx="1.3" fill="#dcefdb" stroke="#25332a" stroke-width="1.15"/>
<text x="347" y="259.6" font-family="Liberation Sans" font-size="8.96" font-weight="normal" fill="#1e2a22" stroke="#1e2a22" stroke-width="0.15" text-anchor="start" textLength="11.8" lengthAdjust="spacingAndGlyphs">1076</text>
<text x="328" y="268.5" font-family="Liberation Sans" font-size="7.01" font-weight="normal" fill="#222" stroke="#222" stroke-width="0.2" text-anchor="start" textLength="7.9" lengthAdjust="spacingAndGlyphs">ID8</text>
<polyline points="350.3,334 350.3,398.2" fill="none" stroke="url(#p7)" stroke-width="3" stroke-linejoin="miter"/>
<path d="M371.9,289 V285 H376.9 V289" fill="#fff" stroke="#1c1c1c" stroke-width="1.1"/>
<line x1="306" y1="152" x2="306" y2="306.7" stroke="#1c1c1c" stroke-width="3" stroke-linecap="butt"/>
<rect x="301.6" y="155.3" width="9.1" height="67.5" rx="1.5" fill="none" stroke="#cfcfcf" stroke-width="2"/>
<rect x="301.6" y="155.3" width="9.1" height="67.5" rx="1.5" fill="none" stroke="#2a2a2a" stroke-width="0.9" stroke-dasharray="2.6 1.4"/>
<rect x="301.8" y="236" width="9" height="67" rx="1.5" fill="none" stroke="#cfcfcf" stroke-width="2"/>
<rect x="301.8" y="236" width="9" height="67" rx="1.5" fill="none" stroke="#2a2a2a" stroke-width="0.9" stroke-dasharray="2.6 1.4"/>
<path d="M303.5,231.5 V227.5 H308.5 V231.5" fill="#fff" stroke="#1c1c1c" stroke-width="1.1"/>
<polyline points="310.4,210.9 318.7,210.9 318.7,227.5" fill="none" stroke="#1c1c1c" stroke-width="2.6" stroke-linejoin="miter" stroke-linecap="butt"/>
<polyline points="318.7,231.4 318.7,247.9 310.4,247.9" fill="none" stroke="#1c1c1c" stroke-width="2.6" stroke-linejoin="miter" stroke-linecap="butt"/>
<path d="M316.2,231.5 V227.5 H321.2 V231.5" fill="#fff" stroke="#1c1c1c" stroke-width="1.1"/>
<polyline points="306,306.7 340.5,306.7 340.5,312.2" fill="none" stroke="#1c1c1c" stroke-width="2.6" stroke-linejoin="miter" stroke-linecap="butt"/>
<line x1="306" y1="306.7" x2="306" y2="312.2" stroke="#1c1c1c" stroke-width="3" stroke-linecap="butt"/>
<polyline points="283.6,257 283.6,247.9 295.6,247.9 295.6,312.2" fill="none" stroke="#1c1c1c" stroke-width="2.8" stroke-linejoin="miter" stroke-linecap="butt"/>
<line x1="283.6" y1="300.3" x2="283.6" y2="312.2" stroke="#1c1c1c" stroke-width="2.8" stroke-linecap="butt"/>
<rect x="281" y="257" width="5" height="6" fill="#fff" stroke="#222" stroke-width="0.9"/>
<rect x="281" y="294.5" width="5" height="6" fill="#fff" stroke="#222" stroke-width="0.9"/>
<path d="M275.4,263 L291.6,263 L291.6,294 L275.4,294 Z" fill="#d5eed9" stroke="#3a5a44" stroke-width="0.9"/>
<path d="M275.4,263 L291.6,268 M275.4,294 L291.6,289 M278.5,264 V293 M288.6,267 V290" fill="none" stroke="#3a5a44" stroke-width="0.8"/>
<path d="M283.6,268 V289 M281.6,269 H285.6" fill="none" stroke="#222" stroke-width="0.9"/>
<text x="259.5" y="281.2" font-family="Liberation Sans" font-size="9.7" font-weight="normal" fill="#222" stroke="#222" stroke-width="0.2" text-anchor="start" textLength="13.4" lengthAdjust="spacingAndGlyphs">E19</text>
<rect x="278.3" y="312.2" width="32.6" height="21.9" rx="0" fill="#8ed2f1" stroke="#223a4c" stroke-width="1.1"/>
<path d="M283.8,318.5 L291.1,323.3 L283.8,328.1 Z" fill="none" stroke="#1d3140" stroke-width="1.1"/>
<text x="293.9" y="326.9" font-family="Liberation Sans" font-size="9.7" font-weight="bold" fill="#1d3140" stroke="#1d3140" stroke-width="0.2" text-anchor="start" textLength="13.7" lengthAdjust="spacingAndGlyphs">U18</text>
<line x1="295.6" y1="334.1" x2="295.6" y2="440.6" stroke="#1c1c1c" stroke-width="3" stroke-linecap="butt"/>
<rect x="333.7" y="312.2" width="23.3" height="21.9" rx="0" fill="#8ed2f1" stroke="#223a4c" stroke-width="1.1"/>
<path d="M346,318.5 L353.3,323.3 L346,328.1 Z" fill="none" stroke="#1d3140" stroke-width="1.1"/>
<path d="M340.5,316 V334 M337.5,316.5 L340.5,320 L343.5,316.5" fill="none" stroke="#1d3140" stroke-width="1"/>
<text x="344.7" y="308.3" font-family="Liberation Sans" font-size="7.91" font-weight="normal" fill="#222" stroke="#222" stroke-width="0.2" text-anchor="start" textLength="13.2" lengthAdjust="spacingAndGlyphs">U17</text>
<line x1="340.5" y1="334.1" x2="340.5" y2="440.6" stroke="#1c1c1c" stroke-width="3" stroke-linecap="butt"/>
<polyline points="357,316 395.7,316 395.7,331.7" fill="none" stroke="#1c1c1c" stroke-width="2.6" stroke-linejoin="miter" stroke-linecap="butt"/>
<rect x="388.5" y="331.7" width="14.3" height="8.7" rx="1.3" fill="#dcefdb" stroke="#25332a" stroke-width="1.15"/>
<text x="390.1" y="338.9" font-family="Liberation Sans" font-size="8.21" font-weight="normal" fill="#1e2a22" stroke="#1e2a22" stroke-width="0.15" text-anchor="start" textLength="11.2" lengthAdjust="spacingAndGlyphs">1054</text>
<rect x="243.2" y="333.7" width="12.8" height="8.7" rx="1.3" fill="#dcefdb" stroke="#25332a" stroke-width="1.15"/>
<text x="244.8" y="340.9" font-family="Liberation Sans" font-size="8.21" font-weight="normal" fill="#1e2a22" stroke="#1e2a22" stroke-width="0.15" text-anchor="start" textLength="9.7" lengthAdjust="spacingAndGlyphs">805</text>
<polyline points="249.4,342.4 249.4,398.2 283.5,398.2 283.5,334.1" fill="none" stroke="#1c1c1c" stroke-width="2.6" stroke-linejoin="miter" stroke-linecap="butt"/>
<polyline points="246.2,348 249.4,352 252.6,348" fill="none" stroke="#1c1c1c" stroke-width="1.1" stroke-linejoin="miter" stroke-linecap="butt"/>
<rect x="279.2" y="350" width="8.6" height="11" rx="1.2" fill="#dcefdb" stroke="#25332a" stroke-width="1.1"/>
<text transform="translate(285.6,355.5) rotate(-90)" font-family="Liberation Sans" font-size="5.8" font-weight="normal" fill="#1e2a22" stroke="#1e2a22" stroke-width="0.2" text-anchor="middle" textLength="6.8" lengthAdjust="spacingAndGlyphs">NB</text>
<rect x="301.1" y="350" width="8.6" height="11" rx="1.2" fill="#dcefdb" stroke="#25332a" stroke-width="1.1"/>
<text transform="translate(307.5,355.5) rotate(-90)" font-family="Liberation Sans" font-size="5.8" font-weight="normal" fill="#1e2a22" stroke="#1e2a22" stroke-width="0.2" text-anchor="middle" textLength="6.8" lengthAdjust="spacingAndGlyphs">NB</text>
<path d="M491,129.1 H549.5 C543.5,132.5 542.5,137 545.5,141.5 L551,148.5 C553,151.5 551,152.6 547.5,152.6 H491 Z" fill="#8ed2f1" stroke="#223a4c" stroke-width="1.1"/>
<text x="514.1" y="140.3" font-family="Liberation Sans" font-size="8.96" font-weight="normal" fill="#1d3140" stroke="#1d3140" stroke-width="0.45" text-anchor="start" textLength="9" lengthAdjust="spacingAndGlyphs">H1</text>
<text x="495.4" y="150" font-family="Liberation Sans" font-size="8.06" font-weight="normal" fill="#1d3140" stroke="#1d3140" stroke-width="0.2" text-anchor="start" textLength="5.7" lengthAdjust="spacingAndGlyphs">21</text>
<text x="506.8" y="150" font-family="Liberation Sans" font-size="8.06" font-weight="normal" fill="#1d3140" stroke="#1d3140" stroke-width="0.2" text-anchor="start" textLength="6.5" lengthAdjust="spacingAndGlyphs">24</text>
<text x="518.2" y="150" font-family="Liberation Sans" font-size="8.06" font-weight="normal" fill="#1d3140" stroke="#1d3140" stroke-width="0.2" text-anchor="start" textLength="5.7" lengthAdjust="spacingAndGlyphs">25</text>
<text x="529.6" y="150" font-family="Liberation Sans" font-size="8.06" font-weight="normal" fill="#1d3140" stroke="#1d3140" stroke-width="0.2" text-anchor="start" textLength="5.7" lengthAdjust="spacingAndGlyphs">26</text>
<text x="541.8" y="150" font-family="Liberation Sans" font-size="8.06" font-weight="normal" fill="#1d3140" stroke="#1d3140" stroke-width="0.2" text-anchor="start" textLength="6.5" lengthAdjust="spacingAndGlyphs">20</text>
<line x1="498.9" y1="152.5" x2="498.9" y2="238.8" stroke="#e5c02c" stroke-width="3" stroke-linecap="butt"/>
<line x1="509.2" y1="152.5" x2="509.2" y2="238.8" stroke="#1c1c1c" stroke-width="2.6" stroke-linecap="butt"/>
<line x1="520.6" y1="152.5" x2="520.6" y2="238.8" stroke="#1c1c1c" stroke-width="2.6" stroke-linecap="butt"/>
<line x1="531.6" y1="152.5" x2="531.6" y2="238.8" stroke="#c8c8c8" stroke-width="2.6" stroke-linecap="butt"/>
<line x1="531.6" y1="152.5" x2="531.6" y2="238.8" stroke="#fff" stroke-width="1.1" stroke-linecap="butt"/>
<polyline points="543.7,152.5 543.7,171.7 536,171.7" fill="none" stroke="#1c1c1c" stroke-width="2.6" stroke-linejoin="miter" stroke-linecap="butt"/>
<line x1="503.6" y1="171.7" x2="528.8" y2="171.7" stroke="#1c1c1c" stroke-width="2.6" stroke-linecap="butt"/>
<rect x="494.6" y="165.5" width="9" height="66.8" rx="1.5" fill="none" stroke="#cfcfcf" stroke-width="2"/>
<rect x="494.6" y="165.5" width="9" height="66.8" rx="1.5" fill="none" stroke="#2a2a2a" stroke-width="0.9" stroke-dasharray="2.6 1.4"/>
<rect x="527.2" y="165.5" width="8.9" height="66.8" rx="1.5" fill="none" stroke="#cfcfcf" stroke-width="2"/>
<rect x="527.2" y="165.5" width="8.9" height="66.8" rx="1.5" fill="none" stroke="#2a2a2a" stroke-width="0.9" stroke-dasharray="2.6 1.4"/>
<polyline points="486,238.8 486,220.6 494.1,220.6" fill="none" stroke="#1c1c1c" stroke-width="2.6" stroke-linejoin="miter" stroke-linecap="butt"/>
<polyline points="543.7,238.8 543.7,220.6 535.6,220.6" fill="none" stroke="#1c1c1c" stroke-width="2.6" stroke-linejoin="miter" stroke-linecap="butt"/>
<polyline points="563.8,57.3 563.8,238.8" fill="none" stroke="url(#p10)" stroke-width="3" stroke-linejoin="miter"/>
<rect x="556.6" y="49" width="15.1" height="8.3" rx="1.3" fill="#dcefdb" stroke="#25332a" stroke-width="1.15"/>
<text x="558.2" y="55.8" font-family="Liberation Sans" font-size="7.61" font-weight="normal" fill="#1e2a22" stroke="#1e2a22" stroke-width="0.15" text-anchor="start" textLength="12" lengthAdjust="spacingAndGlyphs">376</text>
<text x="568.3" y="66.6" font-family="Liberation Sans" font-size="8.06" font-weight="normal" fill="#222" stroke="#222" stroke-width="0.2" text-anchor="start" textLength="9.7" lengthAdjust="spacingAndGlyphs">580</text>
<line x1="603.5" y1="57.3" x2="603.5" y2="238.8" stroke="#c0323c" stroke-width="3" stroke-linecap="butt"/>
<polyline points="584.4,238.8 584.4,193.2 603.5,193.2" fill="none" stroke="#c0323c" stroke-width="3" stroke-linejoin="miter" stroke-linecap="butt"/>
<rect x="596.8" y="49" width="14.7" height="8.3" rx="1.3" fill="#dcefdb" stroke="#25332a" stroke-width="1.15"/>
<text x="598.4" y="55.8" font-family="Liberation Sans" font-size="7.61" font-weight="normal" fill="#1e2a22" stroke="#1e2a22" stroke-width="0.15" text-anchor="start" textLength="11.6" lengthAdjust="spacingAndGlyphs">153</text>
<text x="600" y="45.9" font-family="Liberation Sans" font-size="9.1" font-weight="normal" fill="#222" stroke="#222" stroke-width="0.2" text-anchor="start" textLength="8.3" lengthAdjust="spacingAndGlyphs">F31</text>
<text x="607.8" y="66.6" font-family="Liberation Sans" font-size="8.06" font-weight="normal" fill="#222" stroke="#222" stroke-width="0.2" text-anchor="start" textLength="7.2" lengthAdjust="spacingAndGlyphs">30</text>
<rect x="466.8" y="238.8" width="148.5" height="23.6" rx="0" fill="#8ed2f1" stroke="#223a4c" stroke-width="1.1"/>
<text x="471.8" y="246.2" font-family="Liberation Sans" font-size="7.46" font-weight="normal" fill="#1d3140" stroke="#1d3140" stroke-width="0.2" text-anchor="start" textLength="2.8" lengthAdjust="spacingAndGlyphs">4</text>
<text x="485.8" y="246.2" font-family="Liberation Sans" font-size="7.46" font-weight="normal" fill="#1d3140" stroke="#1d3140" stroke-width="0.2" text-anchor="start" textLength="5.5" lengthAdjust="spacingAndGlyphs">11</text>
<text x="497.4" y="246.2" font-family="Liberation Sans" font-size="7.46" font-weight="normal" fill="#1d3140" stroke="#1d3140" stroke-width="0.2" text-anchor="start" textLength="6.2" lengthAdjust="spacingAndGlyphs">12</text>
<text x="509" y="246.2" font-family="Liberation Sans" font-size="7.46" font-weight="normal" fill="#1d3140" stroke="#1d3140" stroke-width="0.2" text-anchor="start" textLength="2" lengthAdjust="spacingAndGlyphs">1</text>
<text x="519.5" y="246.2" font-family="Liberation Sans" font-size="7.46" font-weight="normal" fill="#1d3140" stroke="#1d3140" stroke-width="0.2" text-anchor="start" textLength="3" lengthAdjust="spacingAndGlyphs">7</text>
<text x="531.5" y="246.2" font-family="Liberation Sans" font-size="7.46" font-weight="normal" fill="#1d3140" stroke="#1d3140" stroke-width="0.2" text-anchor="start" textLength="3" lengthAdjust="spacingAndGlyphs">6</text>
<text x="544.5" y="246.2" font-family="Liberation Sans" font-size="7.46" font-weight="normal" fill="#1d3140" stroke="#1d3140" stroke-width="0.2" text-anchor="start" textLength="2.8" lengthAdjust="spacingAndGlyphs">5</text>
<text x="566.5" y="246.2" font-family="Liberation Sans" font-size="7.46" font-weight="normal" fill="#1d3140" stroke="#1d3140" stroke-width="0.2" text-anchor="start" textLength="6.5" lengthAdjust="spacingAndGlyphs">10</text>
<text x="585.6" y="246.2" font-family="Liberation Sans" font-size="7.46" font-weight="normal" fill="#1d3140" stroke="#1d3140" stroke-width="0.2" text-anchor="start" textLength="2.9" lengthAdjust="spacingAndGlyphs">9</text>
<text x="606.2" y="246.2" font-family="Liberation Sans" font-size="7.46" font-weight="normal" fill="#1d3140" stroke="#1d3140" stroke-width="0.2" text-anchor="start" textLength="2.8" lengthAdjust="spacingAndGlyphs">3</text>
<text x="470.2" y="259.2" font-family="Liberation Sans" font-size="7.46" font-weight="normal" fill="#1d3140" stroke="#1d3140" stroke-width="0.2" text-anchor="start" textLength="2.9" lengthAdjust="spacingAndGlyphs">2</text>
<text x="482.2" y="259.2" font-family="Liberation Sans" font-size="7.46" font-weight="normal" fill="#1d3140" stroke="#1d3140" stroke-width="0.2" text-anchor="start" textLength="2.8" lengthAdjust="spacingAndGlyphs">8</text>
<text x="537.2" y="256.8" font-family="Liberation Sans" font-size="9.85" font-weight="bold" fill="#1d3140" stroke="#1d3140" stroke-width="0.2" text-anchor="start" textLength="12.2" lengthAdjust="spacingAndGlyphs">U24</text>
<line x1="471.8" y1="262.4" x2="471.8" y2="440.6" stroke="#9c8a76" stroke-width="3" stroke-linecap="butt"/>
<line x1="483.2" y1="262.4" x2="483.2" y2="440.6" stroke="#9c8a76" stroke-width="3" stroke-linecap="butt"/>
<text x="475.4" y="436.9" font-family="Liberation Sans" font-size="6.57" font-weight="normal" fill="#222" stroke="#222" stroke-width="0.2" text-anchor="start" textLength="3" lengthAdjust="spacingAndGlyphs">4</text>
<text x="486.4" y="436.9" font-family="Liberation Sans" font-size="6.57" font-weight="normal" fill="#222" stroke="#222" stroke-width="0.2" text-anchor="start" textLength="3" lengthAdjust="spacingAndGlyphs">4</text>
<path d="M642,87.1 H725.6 C720,90.5 719.5,95 722.5,99.5 L728,106 C730,109 728.5,110.6 725,110.6 H642 Z" fill="#8ed2f1" stroke="#223a4c" stroke-width="1.1"/>
<text x="674" y="98.8" font-family="Liberation Sans" font-size="9.1" font-weight="normal" fill="#1d3140" stroke="#1d3140" stroke-width="0.45" text-anchor="start" textLength="10" lengthAdjust="spacingAndGlyphs">H1</text>
<text x="649" y="108.5" font-family="Liberation Sans" font-size="7.91" font-weight="normal" fill="#1d3140" stroke="#1d3140" stroke-width="0.2" text-anchor="start" textLength="7" lengthAdjust="spacingAndGlyphs">20</text>
<text x="695.6" y="108.5" font-family="Liberation Sans" font-size="7.91" font-weight="normal" fill="#1d3140" stroke="#1d3140" stroke-width="0.2" text-anchor="start" textLength="6.1" lengthAdjust="spacingAndGlyphs">23</text>
<text x="718.5" y="108.5" font-family="Liberation Sans" font-size="7.91" font-weight="normal" fill="#1d3140" stroke="#1d3140" stroke-width="0.2" text-anchor="start" textLength="3" lengthAdjust="spacingAndGlyphs">6</text>
<polyline points="652.4,110.5 652.4,149.6 660,149.6" fill="none" stroke="#9c8a76" stroke-width="3" stroke-linejoin="miter" stroke-linecap="butt"/>
<polyline points="698.2,110.5 698.2,149.6 690,149.6" fill="none" stroke="#2e9fd6" stroke-width="3" stroke-linejoin="miter" stroke-linecap="butt"/>
<polyline points="660,160.6 652,160.6 652,219.5" fill="none" stroke="#9c8a76" stroke-width="3" stroke-linejoin="miter" stroke-linecap="butt"/>
<polyline points="690,160.6 698.2,160.6 698.2,219.5" fill="none" stroke="#2e9fd6" stroke-width="3" stroke-linejoin="miter" stroke-linecap="butt"/>
<rect x="659.4" y="146.4" width="4.8" height="6" fill="#fff" stroke="#222" stroke-width="0.9"/>
<rect x="685.6" y="146.4" width="4.8" height="6" fill="#fff" stroke="#222" stroke-width="0.9"/>
<rect x="659.4" y="158" width="4.8" height="6" fill="#fff" stroke="#222" stroke-width="0.9"/>
<rect x="685.6" y="158" width="4.8" height="6" fill="#fff" stroke="#222" stroke-width="0.9"/>
<rect x="664.1" y="143.1" width="21.6" height="24.4" rx="1" fill="#a6dcf2" stroke="#223a4c" stroke-width="1"/>
<path d="M664.1,155.3 H685.7 M664.1,149.8 H685.7 M664.1,161 H685.7" stroke="#223a4c" stroke-width="0.7"/>
<rect x="668.6" y="147.8" width="12.6" height="4" rx="1" fill="#1c1c1c"/>
<rect x="668.6" y="159" width="12.6" height="4" rx="1" fill="#1c1c1c"/>
<line x1="719.5" y1="110.5" x2="719.5" y2="219.5" stroke="#1c1c1c" stroke-width="2.6" stroke-linecap="butt"/>
<polyline points="732.2,77.3 732.2,219.5" fill="none" stroke="url(#p10)" stroke-width="3" stroke-linejoin="miter"/>
<rect x="724.9" y="69" width="13.4" height="8.3" rx="1.3" fill="#dcefdb" stroke="#25332a" stroke-width="1.15"/>
<text x="726.5" y="75.8" font-family="Liberation Sans" font-size="7.61" font-weight="normal" fill="#1e2a22" stroke="#1e2a22" stroke-width="0.15" text-anchor="start" textLength="10.3" lengthAdjust="spacingAndGlyphs">376</text>
<text x="734.6" y="86.6" font-family="Liberation Sans" font-size="8.06" font-weight="normal" fill="#222" stroke="#222" stroke-width="0.2" text-anchor="start" textLength="8.6" lengthAdjust="spacingAndGlyphs">580</text>
<line x1="753.7" y1="77.3" x2="753.7" y2="219.5" stroke="#c0323c" stroke-width="3" stroke-linecap="butt"/>
<rect x="746.3" y="69" width="13.2" height="8.3" rx="1.3" fill="#dcefdb" stroke="#25332a" stroke-width="1.15"/>
<text x="747.9" y="75.8" font-family="Liberation Sans" font-size="7.61" font-weight="normal" fill="#1e2a22" stroke="#1e2a22" stroke-width="0.15" text-anchor="start" textLength="10.1" lengthAdjust="spacingAndGlyphs">132</text>
<text x="748.8" y="63.6" font-family="Liberation Sans" font-size="7.61" font-weight="normal" fill="#222" stroke="#222" stroke-width="0.2" text-anchor="start" textLength="9.7" lengthAdjust="spacingAndGlyphs">F22</text>
<text x="756" y="86.6" font-family="Liberation Sans" font-size="8.06" font-weight="normal" fill="#222" stroke="#222" stroke-width="0.2" text-anchor="start" textLength="6" lengthAdjust="spacingAndGlyphs">30</text>
<line x1="775.6" y1="77.3" x2="775.6" y2="219.5" stroke="#1c1c1c" stroke-width="2.6" stroke-linecap="butt"/>
<rect x="768.8" y="69" width="12.7" height="8.3" rx="1.3" fill="#dcefdb" stroke="#25332a" stroke-width="1.15"/>
<text x="770.4" y="75.8" font-family="Liberation Sans" font-size="7.61" font-weight="normal" fill="#1e2a22" stroke="#1e2a22" stroke-width="0.15" text-anchor="start" textLength="9.6" lengthAdjust="spacingAndGlyphs">160</text>
<text x="770.5" y="63.6" font-family="Liberation Sans" font-size="7.61" font-weight="normal" fill="#222" stroke="#222" stroke-width="0.2" text-anchor="start" textLength="9.3" lengthAdjust="spacingAndGlyphs">F29</text>
<text x="779" y="86.6" font-family="Liberation Sans" font-size="8.06" font-weight="normal" fill="#222" stroke="#222" stroke-width="0.2" text-anchor="start" textLength="5.6" lengthAdjust="spacingAndGlyphs">15</text>
<rect x="645.6" y="215.3" width="136.3" height="45" rx="0" fill="#e6e6e6" stroke="#333" stroke-width="1.3" stroke-dasharray="4.5 2.5"/>
<text x="668.9" y="208.8" font-family="Liberation Sans" font-size="7.16" font-weight="normal" fill="#222" stroke="#222" stroke-width="0.2" text-anchor="start" textLength="9.3" lengthAdjust="spacingAndGlyphs">X38</text>
<text x="713.8" y="240" font-family="Liberation Sans" font-size="7.16" font-weight="normal" fill="#222" stroke="#222" stroke-width="0.2" text-anchor="start" textLength="23.2" lengthAdjust="spacingAndGlyphs">TELEFON</text>
<path d="M648.8,224.8 V221.6 C648.8,219.6 650.8,219 652,219 C653.2,219 655.2,219.6 655.2,221.6 V224.8" fill="none" stroke="#222" stroke-width="1.3"/>
<path d="M695,224.8 V221.6 C695,219.6 697,219 698.2,219 C699.4,219 701.4,219.6 701.4,221.6 V224.8" fill="none" stroke="#222" stroke-width="1.3"/>
<path d="M716.3,224.8 V221.6 C716.3,219.6 718.3,219 719.5,219 C720.7,219 722.7,219.6 722.7,221.6 V224.8" fill="none" stroke="#222" stroke-width="1.3"/>
<path d="M729,224.8 V221.6 C729,219.6 731,219 732.2,219 C733.4,219 735.4,219.6 735.4,221.6 V224.8" fill="none" stroke="#222" stroke-width="1.3"/>
<path d="M750.5,224.8 V221.6 C750.5,219.6 752.5,219 753.7,219 C754.9,219 756.9,219.6 756.9,221.6 V224.8" fill="none" stroke="#222" stroke-width="1.3"/>
<path d="M772.4,224.8 V221.6 C772.4,219.6 774.4,219 775.6,219 C776.8,219 778.8,219.6 778.8,221.6 V224.8" fill="none" stroke="#222" stroke-width="1.3"/>
<path d="M692.9,250.1 V253.1 C692.9,255.1 694.8,255.7 696,255.7 C697.2,255.7 699.1,255.1 699.1,253.1 V250.1" fill="none" stroke="#222" stroke-width="1.3"/>
<path d="M716.2,250.1 V253.1 C716.2,255.1 718.1,255.7 719.3,255.7 C720.5,255.7 722.4,255.1 722.4,253.1 V250.1" fill="none" stroke="#222" stroke-width="1.3"/>
<path d="M727.7,250.1 V253.1 C727.7,255.1 729.6,255.7 730.8,255.7 C732,255.7 733.9,255.1 733.9,253.1 V250.1" fill="none" stroke="#222" stroke-width="1.3"/>
<line x1="696" y1="255.7" x2="696" y2="440.6" stroke="#9c8a76" stroke-width="3" stroke-linecap="butt"/>
<text x="688" y="436.9" font-family="Liberation Sans" font-size="6.57" font-weight="normal" fill="#222" stroke="#222" stroke-width="0.2" text-anchor="start" textLength="3" lengthAdjust="spacingAndGlyphs">4</text>
<line x1="719.3" y1="255.7" x2="719.3" y2="414.3" stroke="#259a5c" stroke-width="3" stroke-linecap="butt"/>
<polyline points="730.8,255.7 730.8,276.8 723.3,276.8" fill="none" stroke="#1c1c1c" stroke-width="2.4" stroke-linejoin="miter" stroke-linecap="butt"/>
<rect x="715.1" y="270.8" width="9" height="66.8" rx="1.5" fill="none" stroke="#cfcfcf" stroke-width="2"/>
<rect x="715.1" y="270.8" width="9" height="66.8" rx="1.5" fill="none" stroke="#2a2a2a" stroke-width="0.9" stroke-dasharray="2.6 1.4"/>
<rect x="715.1" y="354.1" width="9" height="45.2" rx="1.5" fill="none" stroke="#cfcfcf" stroke-width="2"/>
<rect x="715.1" y="354.1" width="9" height="45.2" rx="1.5" fill="none" stroke="#2a2a2a" stroke-width="0.9" stroke-dasharray="2.6 1.4"/>
<polyline points="724.1,328.5 731.5,328.5 731.5,344" fill="none" stroke="#1c1c1c" stroke-width="2.4" stroke-linejoin="miter" stroke-linecap="butt"/>
<polyline points="731.5,348 731.5,360.2 724.1,360.2" fill="none" stroke="#1c1c1c" stroke-width="2.4" stroke-linejoin="miter" stroke-linecap="butt"/>
<path d="M716.8,348 V344 H721.8 V348" fill="#fff" stroke="#1c1c1c" stroke-width="1.1"/>
<path d="M729,348 V344 H734 V348" fill="#fff" stroke="#1c1c1c" stroke-width="1.1"/>
<polyline points="724.1,392 731.5,392 731.5,414.3" fill="none" stroke="#1c1c1c" stroke-width="2.4" stroke-linejoin="miter" stroke-linecap="butt"/>
<line x1="719.3" y1="408.3" x2="731.5" y2="408.3" stroke="#1c1c1c" stroke-width="1.3" stroke-linecap="butt"/>
<text x="714" y="412" font-family="Liberation Sans" font-size="6.12" font-weight="normal" fill="#222" stroke="#222" stroke-width="0.2" text-anchor="start" textLength="2" lengthAdjust="spacingAndGlyphs">r</text>
<text x="734.9" y="412.4" font-family="Liberation Sans" font-size="6.27" font-weight="normal" fill="#222" stroke="#222" stroke-width="0.2" text-anchor="start" textLength="2.1" lengthAdjust="spacingAndGlyphs">1</text>
<text x="707.8" y="423.8" font-family="Liberation Sans" font-size="7.46" font-weight="normal" fill="#222" stroke="#222" stroke-width="0.2" text-anchor="start" textLength="35.9" lengthAdjust="spacingAndGlyphs">MICROPHONE</text>
<path d="M659.5,267.5 V270.4 C659.5,272.4 661.4,273 662.6,273 C663.8,273 665.7,272.4 665.7,270.4 V267.5" fill="none" stroke="#222" stroke-width="1.3"/>
<path d="M673,267.5 V270.4 C673,272.4 674.9,273 676.1,273 C677.3,273 679.2,272.4 679.2,270.4 V267.5" fill="none" stroke="#222" stroke-width="1.3"/>
<line x1="662.6" y1="273" x2="662.6" y2="367.6" stroke="#1c1c1c" stroke-width="2.8" stroke-linecap="butt"/>
<polyline points="676.1,273 676.1,294.7 667.2,294.7" fill="none" stroke="#1c1c1c" stroke-width="2.4" stroke-linejoin="miter" stroke-linecap="butt"/>
<rect x="657.8" y="289" width="9.4" height="59.8" rx="1.5" fill="none" stroke="#cfcfcf" stroke-width="2"/>
<rect x="657.8" y="289" width="9.4" height="59.8" rx="1.5" fill="none" stroke="#2a2a2a" stroke-width="0.9" stroke-dasharray="2.6 1.4"/>
<polyline points="641.5,300 641.5,354.1 663,354.1" fill="none" stroke="#1c1c1c" stroke-width="2.6" stroke-linejoin="miter" stroke-linecap="butt"/>
<path d="M637.5,298 L641.5,303 L645.5,298" fill="none" stroke="#222" stroke-width="1.1"/>
<rect x="637.4" y="328" width="8.6" height="11.4" rx="1.2" fill="#dcefdb" stroke="#25332a" stroke-width="1.1"/>
<text transform="translate(643.8,333.7) rotate(-90)" font-family="Liberation Sans" font-size="5.8" font-weight="normal" fill="#1e2a22" stroke="#1e2a22" stroke-width="0.2" text-anchor="middle" textLength="6.8" lengthAdjust="spacingAndGlyphs">NB</text>
<text x="622" y="311.2" font-family="Liberation Sans" font-size="8.81" font-weight="normal" fill="#222" stroke="#222" stroke-width="0.2" text-anchor="start" textLength="11.8" lengthAdjust="spacingAndGlyphs">P57</text>
<rect x="655.1" y="367.6" width="14.7" height="8" rx="1.3" fill="#dcefdb" stroke="#25332a" stroke-width="1.15"/>
<text x="656.7" y="374.1" font-family="Liberation Sans" font-size="7.16" font-weight="normal" fill="#1e2a22" stroke="#1e2a22" stroke-width="0.15" text-anchor="start" textLength="11.6" lengthAdjust="spacingAndGlyphs">1733</text>
<text x="656.6" y="383.2" font-family="Liberation Sans" font-size="7.76" font-weight="normal" fill="#222" stroke="#222" stroke-width="0.2" text-anchor="start" textLength="10.2" lengthAdjust="spacingAndGlyphs">ANT</text>
<line x1="954.5" y1="72.1" x2="954.5" y2="162.5" stroke="#1c1c1c" stroke-width="2.8" stroke-linecap="butt"/>
<rect x="947.2" y="63.4" width="13.8" height="8.7" rx="1.3" fill="#dcefdb" stroke="#25332a" stroke-width="1.15"/>
<text x="948.8" y="70.6" font-family="Liberation Sans" font-size="8.21" font-weight="normal" fill="#1e2a22" stroke="#1e2a22" stroke-width="0.15" text-anchor="start" textLength="10.7" lengthAdjust="spacingAndGlyphs">122</text>
<text x="949.4" y="59.4" font-family="Liberation Sans" font-size="8.36" font-weight="normal" fill="#222" stroke="#222" stroke-width="0.2" text-anchor="start" textLength="5.5" lengthAdjust="spacingAndGlyphs">F2</text>
<polyline points="977.2,72.1 977.2,162.5" fill="none" stroke="url(#p10)" stroke-width="3" stroke-linejoin="miter"/>
<polyline points="977.2,100.4 1066.7,100.4 1066.7,161.5" fill="none" stroke="url(#p10)" stroke-width="3" stroke-linejoin="miter"/>
<rect x="970.1" y="63.4" width="13.2" height="8.7" rx="1.3" fill="#dcefdb" stroke="#25332a" stroke-width="1.15"/>
<text x="971.7" y="70.6" font-family="Liberation Sans" font-size="8.21" font-weight="normal" fill="#1e2a22" stroke="#1e2a22" stroke-width="0.15" text-anchor="start" textLength="10.1" lengthAdjust="spacingAndGlyphs">375</text>
<text x="980.9" y="80.8" font-family="Liberation Sans" font-size="6.87" font-weight="normal" fill="#222" stroke="#222" stroke-width="0.2" text-anchor="start" textLength="8.5" lengthAdjust="spacingAndGlyphs">580</text>
<line x1="1044.7" y1="72.1" x2="1044.7" y2="161.5" stroke="#1c1c1c" stroke-width="2.8" stroke-linecap="butt"/>
<rect x="1037.8" y="63.4" width="13" height="8.7" rx="1.3" fill="#dcefdb" stroke="#25332a" stroke-width="1.15"/>
<text x="1039.4" y="70.6" font-family="Liberation Sans" font-size="8.21" font-weight="normal" fill="#1e2a22" stroke="#1e2a22" stroke-width="0.15" text-anchor="start" textLength="9.9" lengthAdjust="spacingAndGlyphs">167</text>
<text x="1039.8" y="59.4" font-family="Liberation Sans" font-size="8.36" font-weight="normal" fill="#222" stroke="#222" stroke-width="0.2" text-anchor="start" textLength="8.2" lengthAdjust="spacingAndGlyphs">F36</text>
<text x="1048" y="80.2" font-family="Liberation Sans" font-size="6.87" font-weight="normal" fill="#222" stroke="#222" stroke-width="0.2" text-anchor="start" textLength="6" lengthAdjust="spacingAndGlyphs">15</text>
<polyline points="999.2,162.5 999.2,144.6 1022,144.6 1022,273.9 1044.7,273.9 1044.7,262.7" fill="none" stroke="url(#p11)" stroke-width="3" stroke-linejoin="miter"/>
<rect x="924.4" y="167.6" width="82.3" height="29.1" rx="0" fill="#8ed2f1" stroke="#223a4c" stroke-width="1.1"/>
<text x="930.5" y="162.6" font-family="Liberation Sans" font-size="10.75" font-weight="normal" fill="#222" stroke="#222" stroke-width="0.2" text-anchor="start" textLength="9.1" lengthAdjust="spacingAndGlyphs">S3</text>
<rect x="951.8" y="162.3" width="5.4" height="5.3" fill="#fff" stroke="#222" stroke-width="0.9"/>
<rect x="974.1" y="162.3" width="5.4" height="5.3" fill="#fff" stroke="#222" stroke-width="0.9"/>
<rect x="996.5" y="162.3" width="5.4" height="5.3" fill="#fff" stroke="#222" stroke-width="0.9"/>
<rect x="929.2" y="196.9" width="5.4" height="5.3" fill="#fff" stroke="#222" stroke-width="0.9"/>
<rect x="940.4" y="196.9" width="5.4" height="5.3" fill="#fff" stroke="#222" stroke-width="0.9"/>
<rect x="951.8" y="196.9" width="5.4" height="5.3" fill="#fff" stroke="#222" stroke-width="0.9"/>
<rect x="962.7" y="196.9" width="5.4" height="5.3" fill="#fff" stroke="#222" stroke-width="0.9"/>
<rect x="996.5" y="196.9" width="5.4" height="5.3" fill="#fff" stroke="#222" stroke-width="0.9"/>
<text x="959.6" y="160.6" font-family="Liberation Sans" font-size="6.27" font-weight="normal" fill="#222" stroke="#222" stroke-width="0.2" text-anchor="start" textLength="3" lengthAdjust="spacingAndGlyphs">6</text>
<text x="982.3" y="160.6" font-family="Liberation Sans" font-size="6.27" font-weight="normal" fill="#222" stroke="#222" stroke-width="0.2" text-anchor="start" textLength="3" lengthAdjust="spacingAndGlyphs">9</text>
<text x="1005.1" y="160.6" font-family="Liberation Sans" font-size="6.27" font-weight="normal" fill="#222" stroke="#222" stroke-width="0.2" text-anchor="start" textLength="3" lengthAdjust="spacingAndGlyphs">7</text>
<text x="935.6" y="210.4" font-family="Liberation Sans" font-size="7.16" font-weight="normal" fill="#222" stroke="#222" stroke-width="0.2" text-anchor="start" textLength="3" lengthAdjust="spacingAndGlyphs">4</text>
<text x="947.4" y="210.4" font-family="Liberation Sans" font-size="7.16" font-weight="normal" fill="#222" stroke="#222" stroke-width="0.2" text-anchor="start" textLength="3" lengthAdjust="spacingAndGlyphs">1</text>
<text x="958.3" y="210.4" font-family="Liberation Sans" font-size="7.16" font-weight="normal" fill="#222" stroke="#222" stroke-width="0.2" text-anchor="start" textLength="3" lengthAdjust="spacingAndGlyphs">3</text>
<text x="969.7" y="210.4" font-family="Liberation Sans" font-size="7.16" font-weight="normal" fill="#222" stroke="#222" stroke-width="0.2" text-anchor="start" textLength="3" lengthAdjust="spacingAndGlyphs">2</text>
<text x="1005.7" y="210.4" font-family="Liberation Sans" font-size="7.16" font-weight="normal" fill="#222" stroke="#222" stroke-width="0.2" text-anchor="start" textLength="3" lengthAdjust="spacingAndGlyphs">8</text>
<path d="M954.4,167.6 V196.7" fill="none" stroke="#1d3140" stroke-width="1.2"/>
<path d="M931.9,196.7 V186.1 H937.6 M942.9,196.7 V186.1 H950.5 M965.4,196.7 V186.1 H957.5" fill="none" stroke="#1d3140" stroke-width="1"/>
<path d="M954.4,178 L937.8,186.3 M954.4,178 L960.6,184.5" fill="none" stroke="#1d3140" stroke-width="1" stroke-dasharray="1.8 1.2"/>
<path d="M952.6,177.5 L954.4,175.8 L956.2,177.5 Z" fill="#1d3140" stroke="#1d3140" stroke-width="0.8"/>
<path d="M948.5,185 L950.8,186.1 L948.5,187.2 M959.5,185 L957.2,186.1 L959.5,187.2" fill="none" stroke="#1d3140" stroke-width="0.8"/>
<path d="M977.2,167.6 V174.7 M977.2,184.7 V191.1 H999.6" fill="none" stroke="#1d3140" stroke-width="1"/>
<circle cx="977.2" cy="179.7" r="4.9" fill="#f3ec80" stroke="#1d3140" stroke-width="1"/><path d="M973.8,176.3 L980.6,183.1 M980.6,176.3 L973.8,183.1" stroke="#1d3140" stroke-width="0.9"/>
<path d="M999.6,167.6 V177.5 L1001.6,185 M999.6,185.5 V196.7 M997.5,179.7 H999.6" fill="none" stroke="#1d3140" stroke-width="1"/>
<path d="M998.2,189.9 L999.8,191.1 L998.2,192.3" fill="none" stroke="#1d3140" stroke-width="0.8"/>
<circle cx="991.8" cy="179.7" r="1.9" fill="none" stroke="#1d3140" stroke-width="0.9"/>
<line x1="931.9" y1="202.2" x2="931.9" y2="365.1" stroke="#259a5c" stroke-width="3" stroke-linecap="butt"/>
<line x1="943.1" y1="202.2" x2="943.1" y2="365.1" stroke="#e5c02c" stroke-width="3" stroke-linecap="butt"/>
<line x1="954.5" y1="202.2" x2="954.5" y2="365.1" stroke="#a8a8a8" stroke-width="3" stroke-linecap="butt"/>
<line x1="965.4" y1="202.2" x2="965.4" y2="365.1" stroke="#2e9fd6" stroke-width="3" stroke-linecap="butt"/>
<line x1="999.2" y1="202.2" x2="999.2" y2="440.6" stroke="#9c8a76" stroke-width="3" stroke-linecap="butt"/>
<rect x="924" y="365.1" width="44.1" height="30.5" rx="0" fill="#62c4ee" stroke="#223a4c" stroke-width="1.1"/>
<path d="M931.9,365.1 V372.5 H965.4 V365.1 M943.1,365.1 V372.5 M954.5,365.1 V372.5" fill="none" stroke="#1d3140" stroke-width="0.8"/>
<rect x="933.9" y="370.7" width="7.2" height="3.6" fill="#cfe8f0" stroke="#1d3140" stroke-width="0.7"/>
<rect x="945.2" y="370.7" width="7.2" height="3.6" fill="#cfe8f0" stroke="#1d3140" stroke-width="0.7"/>
<rect x="956.4" y="370.7" width="7.2" height="3.6" fill="#cfe8f0" stroke="#1d3140" stroke-width="0.7"/>
<circle cx="931.6" cy="383" r="5.4" fill="#f08870" stroke="#1d3140" stroke-width="0.9"/>
<rect x="929.9" y="376" width="3.4" height="2" fill="#1d3140"/><rect x="929.9" y="388" width="3.4" height="2" fill="#1d3140"/>
<path d="M931.9,371 V376" stroke="#1d3140" stroke-width="0.8"/>
<text x="929.5" y="385.2" font-family="Liberation Sans" font-size="7.01" font-weight="bold" fill="#1d3140" stroke="#1d3140" stroke-width="0.2" text-anchor="start" textLength="4.5" lengthAdjust="spacingAndGlyphs">M</text>
<text x="945.7" y="389.1" font-family="Liberation Sans" font-size="11.34" font-weight="normal" fill="#1d3140" stroke="#1d3140" stroke-width="0.45" text-anchor="start" textLength="10.2" lengthAdjust="spacingAndGlyphs">M3</text>
<text x="935.2" y="362.8" font-family="Liberation Sans" font-size="9.25" font-weight="normal" fill="#222" stroke="#222" stroke-width="0.2" text-anchor="start" textLength="3" lengthAdjust="spacingAndGlyphs">3</text>
<text x="946.8" y="362.8" font-family="Liberation Sans" font-size="9.25" font-weight="normal" fill="#222" stroke="#222" stroke-width="0.2" text-anchor="start" textLength="3" lengthAdjust="spacingAndGlyphs">4</text>
<text x="957.9" y="362.8" font-family="Liberation Sans" font-size="9.25" font-weight="normal" fill="#222" stroke="#222" stroke-width="0.2" text-anchor="start" textLength="3" lengthAdjust="spacingAndGlyphs">2</text>
<text x="969.7" y="362.8" font-family="Liberation Sans" font-size="9.25" font-weight="normal" fill="#222" stroke="#222" stroke-width="0.2" text-anchor="start" textLength="3" lengthAdjust="spacingAndGlyphs">1</text>
<line x1="931.9" y1="395.6" x2="931.9" y2="440.6" stroke="#9c8a76" stroke-width="3" stroke-linecap="butt"/>
<text x="937.5" y="437.2" font-family="Liberation Sans" font-size="7.16" font-weight="normal" fill="#222" stroke="#222" stroke-width="0.2" text-anchor="start" textLength="2.5" lengthAdjust="spacingAndGlyphs">1</text>
<text x="1004.6" y="437.2" font-family="Liberation Sans" font-size="7.16" font-weight="normal" fill="#222" stroke="#222" stroke-width="0.2" text-anchor="start" textLength="2.5" lengthAdjust="spacingAndGlyphs">1</text>
<text x="1072.1" y="437.2" font-family="Liberation Sans" font-size="7.16" font-weight="normal" fill="#222" stroke="#222" stroke-width="0.2" text-anchor="start" textLength="2.5" lengthAdjust="spacingAndGlyphs">1</text>
<rect x="1032.4" y="166.4" width="45.3" height="30.7" rx="0" fill="#8ed2f1" stroke="#223a4c" stroke-width="1.1"/>
<text x="1078.5" y="156.6" font-family="Liberation Sans" font-size="10.9" font-weight="normal" fill="#222" stroke="#222" stroke-width="0.2" text-anchor="start" textLength="17.6" lengthAdjust="spacingAndGlyphs">S102</text>
<rect x="1041.6" y="161.3" width="5.4" height="5.3" fill="#fff" stroke="#222" stroke-width="0.9"/>
<rect x="1041.6" y="197.2" width="5.4" height="5.3" fill="#fff" stroke="#222" stroke-width="0.9"/>
<rect x="1064" y="161.3" width="5.4" height="5.3" fill="#fff" stroke="#222" stroke-width="0.9"/>
<rect x="1064" y="197.2" width="5.4" height="5.3" fill="#fff" stroke="#222" stroke-width="0.9"/>
<text x="1051" y="160.6" font-family="Liberation Sans" font-size="6.27" font-weight="normal" fill="#222" stroke="#222" stroke-width="0.2" text-anchor="start" textLength="3" lengthAdjust="spacingAndGlyphs">2</text>
<text x="1072.2" y="160.6" font-family="Liberation Sans" font-size="6.27" font-weight="normal" fill="#222" stroke="#222" stroke-width="0.2" text-anchor="start" textLength="3" lengthAdjust="spacingAndGlyphs">5</text>
<text x="1050" y="209.8" font-family="Liberation Sans" font-size="6.27" font-weight="normal" fill="#222" stroke="#222" stroke-width="0.2" text-anchor="start" textLength="2.5" lengthAdjust="spacingAndGlyphs">1</text>
<text x="1072.8" y="209.8" font-family="Liberation Sans" font-size="6.27" font-weight="normal" fill="#222" stroke="#222" stroke-width="0.2" text-anchor="start" textLength="3" lengthAdjust="spacingAndGlyphs">4</text>
<path d="M1044.3,166.6 V167.5 L1042.2,184.3 M1044.3,187.5 V197.1 M1036,179.2 V182.2 M1036,180.7 H1039.5 L1040.5,179.5 L1042,180.7" fill="none" stroke="#1d3140" stroke-width="1"/>
<path d="M1043,187.2 L1044.3,188.6 L1045.6,187.2" fill="none" stroke="#1d3140" stroke-width="0.8"/>
<path d="M1047.6,190.2 V172.6 H1054.8 V174.6 M1066.9,166.6 V174.6 M1054.8,185.2 V189.2 H1066.9 M1066.9,185.2 V197.1" fill="none" stroke="#1d3140" stroke-width="1"/>
<circle cx="1054.8" cy="179.9" r="5.2" fill="#f3ec80" stroke="#1d3140" stroke-width="1"/><path d="M1051.2,176.3 L1058.4,183.5 M1058.4,176.3 L1051.2,183.5" stroke="#1d3140" stroke-width="0.9"/>
<circle cx="1066.9" cy="179.9" r="5.2" fill="#f3ec80" stroke="#1d3140" stroke-width="1"/><path d="M1063.3,176.3 L1070.5,183.5 M1070.5,176.3 L1063.3,183.5" stroke="#1d3140" stroke-width="0.9"/>
<circle cx="1066.9" cy="189.2" r="1" fill="#1d3140"/>
<text x="1046.5" y="174.3" font-family="Liberation Sans" font-size="7.16" font-weight="normal" fill="#1d3140" stroke="#1d3140" stroke-width="0.2" text-anchor="start" textLength="3" lengthAdjust="spacingAndGlyphs">3</text>
<text x="1069.2" y="174.3" font-family="Liberation Sans" font-size="7.16" font-weight="normal" fill="#1d3140" stroke="#1d3140" stroke-width="0.2" text-anchor="start" textLength="3" lengthAdjust="spacingAndGlyphs">4</text>
<text x="1046.3" y="194.5" font-family="Liberation Sans" font-size="7.16" font-weight="normal" fill="#1d3140" stroke="#1d3140" stroke-width="0.2" text-anchor="start" textLength="3" lengthAdjust="spacingAndGlyphs">2</text>
<text x="1069.8" y="194.5" font-family="Liberation Sans" font-size="7.16" font-weight="normal" fill="#1d3140" stroke="#1d3140" stroke-width="0.2" text-anchor="start" textLength="2.2" lengthAdjust="spacingAndGlyphs">1</text>
<polyline points="1044.7,202.5 1044.7,235.9" fill="none" stroke="url(#p12)" stroke-width="3" stroke-linejoin="miter"/>
<line x1="1066.7" y1="202.5" x2="1066.7" y2="440.6" stroke="#9c8a76" stroke-width="3" stroke-linecap="butt"/>
<rect x="1031.6" y="235.8" width="28.4" height="26.7" rx="0" fill="#8ed2f1" stroke="#223a4c" stroke-width="1.1"/>
<text x="1049.4" y="231.3" font-family="Liberation Sans" font-size="9.4" font-weight="normal" fill="#222" stroke="#222" stroke-width="0.2" text-anchor="start" textLength="12.2" lengthAdjust="spacingAndGlyphs">Y35</text>
<path d="M1044.2,235.8 V262.5 M1044.2,239.7 H1055.4 V257.4 H1044.2" fill="none" stroke="#1d3140" stroke-width="1.1"/>
<rect x="1040.7" y="247" width="7.8" height="4.3" fill="#a8dcf0" stroke="#1d3140" stroke-width="1.1"/><path d="M1041.8,250.6 L1047.4,247.6" stroke="#1d3140" stroke-width="0.9"/>
<path d="M1053.4,252.2 H1057.4 L1055.4,248.4 Z M1053.4,248.4 H1057.4" fill="#8ed2f1" stroke="#1d3140" stroke-width="1"/>
<path d="M1037.3,244 V254.6" stroke="#1d3140" stroke-width="1.4"/><path d="M1036,246 L1037.3,244 L1038.6,246 M1036,252.6 L1037.3,254.6 L1038.6,252.6" fill="none" stroke="#1d3140" stroke-width="0.9"/>
<circle cx="541" cy="17.5" r="2.2" fill="#1c1c1c"/>
<circle cx="62" cy="310.8" r="2.4" fill="#1c1c1c"/>
<circle cx="85.3" cy="310.8" r="2.4" fill="#1c1c1c"/>
<circle cx="62" cy="332.5" r="2.4" fill="#1c1c1c"/>
<circle cx="85.3" cy="332.5" r="2.4" fill="#1c1c1c"/>
<circle cx="106.7" cy="310.8" r="2.4" fill="#1c1c1c"/>
<circle cx="130" cy="310.8" r="2.4" fill="#1c1c1c"/>
<circle cx="106.7" cy="332.5" r="2.4" fill="#1c1c1c"/>
<circle cx="130" cy="332.5" r="2.4" fill="#1c1c1c"/>
<circle cx="151.3" cy="310.8" r="2.4" fill="#1c1c1c"/>
<circle cx="174.7" cy="310.8" r="2.4" fill="#1c1c1c"/>
<circle cx="195.8" cy="310.8" r="2.4" fill="#1c1c1c"/>
<circle cx="219.5" cy="310.8" r="2.4" fill="#1c1c1c"/>
<circle cx="47.8" cy="440.6" r="2.8" fill="#1c1c1c"/>
<circle cx="352.4" cy="173.3" r="2.4" fill="#1c1c1c"/>
<circle cx="374.4" cy="173.3" r="2.4" fill="#1c1c1c"/>
<circle cx="350.3" cy="398.2" r="2.4" fill="#1c1c1c"/>
<circle cx="310.4" cy="210.9" r="2.3" fill="#1c1c1c"/>
<circle cx="310.4" cy="247.9" r="2.3" fill="#1c1c1c"/>
<circle cx="295.6" cy="334.1" r="2.4" fill="#1c1c1c"/>
<circle cx="340.5" cy="334.1" r="2.4" fill="#1c1c1c"/>
<circle cx="295.6" cy="440.6" r="2.8" fill="#1c1c1c"/>
<circle cx="340.3" cy="440.6" r="2.8" fill="#1c1c1c"/>
<circle cx="503.6" cy="171.7" r="2.3" fill="#1c1c1c"/>
<circle cx="528.8" cy="171.7" r="2.3" fill="#1c1c1c"/>
<circle cx="536" cy="171.7" r="2.3" fill="#1c1c1c"/>
<circle cx="494.1" cy="220.6" r="2.3" fill="#1c1c1c"/>
<circle cx="535.6" cy="220.6" r="2.3" fill="#1c1c1c"/>
<circle cx="603.5" cy="193.2" r="2.3" fill="#1c1c1c"/>
<circle cx="472.2" cy="440.6" r="2.8" fill="#1c1c1c"/>
<circle cx="483.3" cy="440.6" r="2.8" fill="#1c1c1c"/>
<circle cx="696.2" cy="440.6" r="2.8" fill="#1c1c1c"/>
<circle cx="723.3" cy="276.8" r="2.2" fill="#1c1c1c"/>
<circle cx="724.1" cy="328.5" r="2.2" fill="#1c1c1c"/>
<circle cx="724.1" cy="360.2" r="2.2" fill="#1c1c1c"/>
<circle cx="724.1" cy="392" r="2.2" fill="#1c1c1c"/>
<circle cx="667.2" cy="294.7" r="2.2" fill="#1c1c1c"/>
<circle cx="663" cy="354.1" r="2.2" fill="#1c1c1c"/>
<circle cx="977.2" cy="100.4" r="2.4" fill="#1c1c1c"/>
<circle cx="931.7" cy="440.6" r="2.8" fill="#1c1c1c"/>
<circle cx="999.4" cy="440.6" r="2.8" fill="#1c1c1c"/>
<circle cx="1066.7" cy="440.6" r="2.8" fill="#1c1c1c"/>
<circle cx="1044.2" cy="239.7" r="1.1" fill="#1d3140"/>
<circle cx="1044.2" cy="257.4" r="1.1" fill="#1d3140"/>
</svg></body></html>
